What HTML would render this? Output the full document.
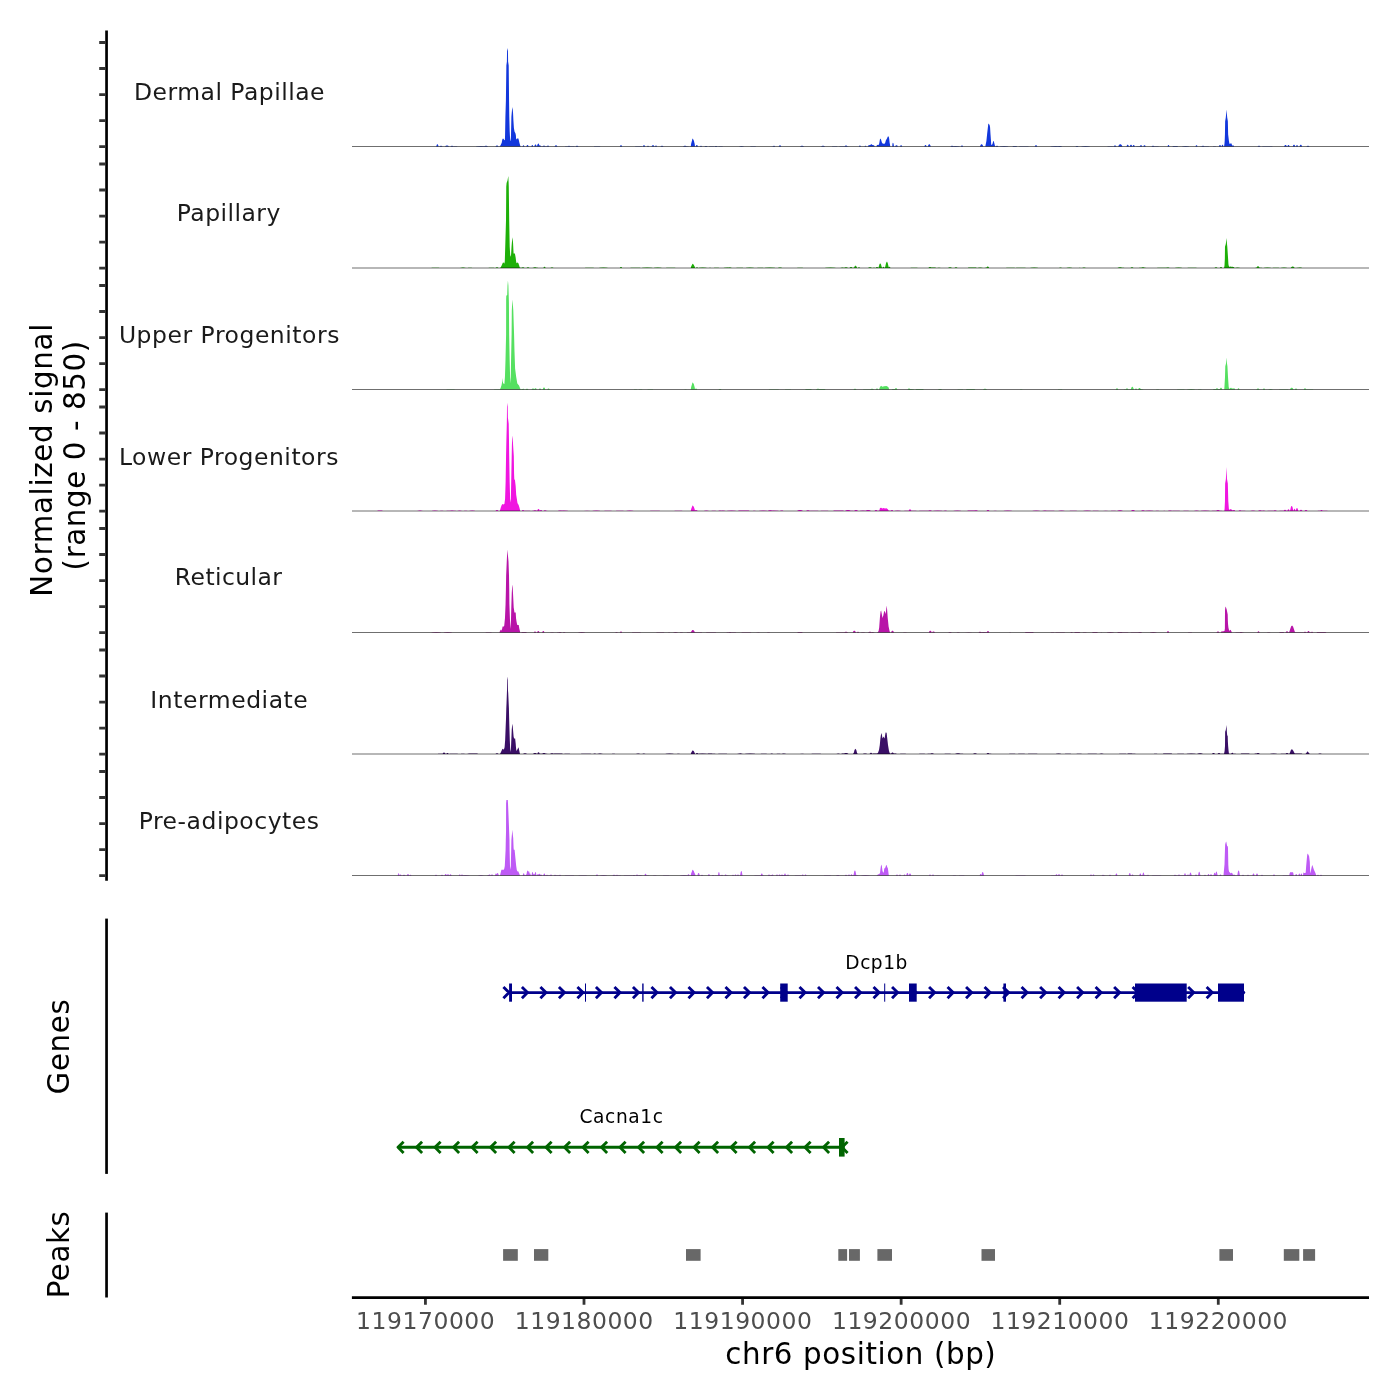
<!DOCTYPE html>
<html lang="en"><head><meta charset="utf-8"><title>Coverage plot chr6</title>
<style>html,body{margin:0;padding:0;background:#fff}body{width:1400px;height:1400px;overflow:hidden}svg{display:block}text{font-family:"DejaVu Sans","Liberation Sans",sans-serif}</style>
</head><body>
<svg width="1400" height="1400" viewBox="0 0 1400 1400">
<rect width="1400" height="1400" fill="#fff"/>
<path d="M499.50 146.50 L500.60 145.30 L501.70 142.80 L502.20 140.00 L502.60 138.70 L503.60 138.70 L504.10 140.00 L504.60 140.20 L504.90 139.50 L505.06 135.40 L505.40 116.80 L505.90 100.50 L506.36 65.50 L506.90 61.50 L507.05 51.00 L507.50 48.10 L507.95 51.00 L508.10 61.50 L508.70 65.50 L509.06 100.50 L509.30 116.80 L509.70 131.60 L510.10 139.10 L510.45 141.30 L510.70 140.50 L511.00 135.40 L511.40 116.80 L512.00 110.00 L512.50 106.90 L513.05 113.10 L513.40 120.50 L513.90 127.90 L514.50 131.60 L515.50 133.50 L515.90 135.40 L516.10 139.10 L516.40 139.50 L516.90 138.50 L518.40 138.50 L518.90 140.50 L519.40 142.80 L520.10 145.30 L520.70 146.50Z M436.20 146.50 L436.68 144.96 L437.16 144.30 L437.64 144.30 L438.12 144.96 L438.60 146.50Z M439.50 146.50 L440.10 145.94 L440.70 145.70 L441.30 145.70 L441.90 145.94 L442.50 146.50Z M445.00 146.50 L445.80 145.87 L446.60 145.60 L447.40 145.60 L448.20 145.87 L449.00 146.50Z M450.50 146.50 L451.10 145.94 L451.70 145.70 L452.30 145.70 L452.90 145.94 L453.50 146.50Z M484.00 146.50 L484.80 145.94 L485.60 145.70 L486.40 145.70 L487.20 145.94 L488.00 146.50Z M495.50 146.50 L496.10 145.80 L496.70 145.50 L497.30 145.50 L497.90 145.80 L498.50 146.50Z M522.50 146.50 L522.90 145.66 L523.30 145.30 L523.70 145.30 L524.10 145.66 L524.50 146.50Z M526.30 146.50 L526.78 145.45 L527.26 145.00 L527.74 145.00 L528.22 145.45 L528.70 146.50Z M531.30 146.50 L531.70 145.45 L532.10 145.00 L532.50 145.00 L532.90 145.45 L533.30 146.50Z M534.30 146.50 L534.78 145.10 L535.26 144.50 L535.74 144.50 L536.22 145.10 L536.70 146.50Z M536.80 146.50 L537.18 145.45 L537.63 144.16 L538.12 143.50 L538.48 143.50 L538.97 144.16 L539.42 145.45 L539.79 146.50Z M539.00 146.50 L539.40 145.66 L539.80 145.30 L540.20 145.30 L540.60 145.66 L541.00 146.50Z M543.00 146.50 L543.40 145.80 L543.80 145.50 L544.20 145.50 L544.60 145.80 L545.00 146.50Z M547.00 146.50 L547.40 145.80 L547.80 145.50 L548.20 145.50 L548.60 145.80 L549.00 146.50Z M554.50 146.50 L555.10 145.66 L555.70 145.30 L556.30 145.30 L556.90 145.66 L557.50 146.50Z M568.00 146.50 L568.40 146.01 L568.80 145.80 L569.20 145.80 L569.60 146.01 L570.00 146.50Z M575.50 146.50 L576.10 146.01 L576.70 145.80 L577.30 145.80 L577.90 146.01 L578.50 146.50Z M619.80 146.50 L620.28 145.59 L620.76 145.20 L621.24 145.20 L621.72 145.59 L622.20 146.50Z M642.80 146.50 L643.28 145.59 L643.76 145.20 L644.24 145.20 L644.72 145.59 L645.20 146.50Z M647.00 146.50 L647.40 145.94 L647.80 145.70 L648.20 145.70 L648.60 145.94 L649.00 146.50Z M651.50 146.50 L652.10 145.59 L652.70 145.20 L653.30 145.20 L653.90 145.59 L654.50 146.50Z M655.00 146.50 L655.40 145.87 L655.80 145.60 L656.20 145.60 L656.60 145.87 L657.00 146.50Z M660.50 146.50 L661.10 145.94 L661.70 145.70 L662.30 145.70 L662.90 145.94 L663.50 146.50Z M683.00 146.50 L683.80 145.94 L684.60 145.70 L685.40 145.70 L686.20 145.94 L687.00 146.50Z M695.60 146.50 L696.08 145.38 L696.56 144.90 L697.04 144.90 L697.52 145.38 L698.00 146.50Z M700.00 146.50 L700.40 146.01 L700.80 145.80 L701.20 145.80 L701.60 146.01 L702.00 146.50Z M704.50 146.50 L705.10 146.08 L705.70 145.90 L706.30 145.90 L706.90 146.08 L707.50 146.50Z M714.50 146.50 L715.10 146.08 L715.70 145.90 L716.30 145.90 L716.90 146.08 L717.50 146.50Z M772.80 146.50 L773.28 145.94 L773.76 145.70 L774.24 145.70 L774.72 145.94 L775.20 146.50Z M778.70 146.50 L779.22 145.66 L779.74 145.30 L780.26 145.30 L780.78 145.66 L781.30 146.50Z M800.00 146.50 L800.80 146.01 L801.60 145.80 L802.40 145.80 L803.20 146.01 L804.00 146.50Z M821.00 146.50 L821.80 145.94 L822.60 145.70 L823.40 145.70 L824.20 145.94 L825.00 146.50Z M844.50 146.50 L845.10 145.87 L845.70 145.60 L846.30 145.60 L846.90 145.87 L847.50 146.50Z M858.90 146.50 L859.30 145.80 L859.70 145.50 L860.10 145.50 L860.50 145.80 L860.90 146.50Z M864.50 146.50 L864.90 145.94 L865.30 145.70 L865.70 145.70 L866.10 145.94 L866.50 146.50Z M895.10 146.50 L895.66 145.59 L896.22 145.20 L896.78 145.20 L897.34 145.59 L897.90 146.50Z M900.00 146.50 L900.44 145.59 L900.88 145.20 L901.32 145.20 L901.76 145.59 L902.20 146.50Z M924.30 146.50 L924.78 145.45 L925.26 145.00 L925.74 145.00 L926.22 145.45 L926.70 146.50Z M927.80 146.50 L928.40 144.89 L929.00 144.20 L929.60 144.20 L930.20 144.89 L930.80 146.50Z M950.50 146.50 L951.10 145.94 L951.70 145.70 L952.30 145.70 L952.90 145.94 L953.50 146.50Z M960.80 146.50 L961.28 145.80 L961.76 145.50 L962.24 145.50 L962.72 145.80 L963.20 146.50Z M979.90 146.50 L980.58 144.89 L981.26 144.20 L981.94 144.20 L982.62 144.89 L983.30 146.50Z M995.50 146.50 L996.10 145.94 L996.70 145.70 L997.30 145.70 L997.90 145.94 L998.50 146.50Z M1034.70 146.50 L1035.22 145.59 L1035.74 145.20 L1036.26 145.20 L1036.78 145.59 L1037.30 146.50Z M1058.00 146.50 L1058.80 146.08 L1059.60 145.90 L1060.40 145.90 L1061.20 146.08 L1062.00 146.50Z M1075.50 146.50 L1076.10 146.08 L1076.70 145.90 L1077.30 145.90 L1077.90 146.08 L1078.50 146.50Z M1113.50 146.50 L1114.10 145.80 L1114.70 145.50 L1115.30 145.50 L1115.90 145.80 L1116.50 146.50Z M1118.10 146.50 L1118.98 144.89 L1119.86 144.20 L1120.74 144.20 L1121.62 144.89 L1122.50 146.50Z M1126.50 146.50 L1126.98 145.24 L1127.46 144.70 L1127.94 144.70 L1128.42 145.24 L1128.90 146.50Z M1129.70 146.50 L1130.22 145.24 L1130.74 144.70 L1131.26 144.70 L1131.78 145.24 L1132.30 146.50Z M1132.50 146.50 L1132.98 145.38 L1133.46 144.90 L1133.94 144.90 L1134.42 145.38 L1134.90 146.50Z M1139.70 146.50 L1140.22 145.59 L1140.74 145.20 L1141.26 145.20 L1141.78 145.59 L1142.30 146.50Z M1143.30 146.50 L1143.78 145.59 L1144.26 145.20 L1144.74 145.20 L1145.22 145.59 L1145.70 146.50Z M1151.50 146.50 L1152.10 146.01 L1152.70 145.80 L1153.30 145.80 L1153.90 146.01 L1154.50 146.50Z M1167.50 146.50 L1167.90 145.45 L1168.30 145.00 L1168.70 145.00 L1169.10 145.45 L1169.50 146.50Z M1195.50 146.50 L1195.90 145.59 L1196.30 145.20 L1196.70 145.20 L1197.10 145.59 L1197.50 146.50Z M1201.50 146.50 L1202.10 146.01 L1202.70 145.80 L1203.30 145.80 L1203.90 146.01 L1204.50 146.50Z M1218.80 146.50 L1219.28 145.45 L1219.76 145.00 L1220.24 145.00 L1220.72 145.45 L1221.20 146.50Z M1221.50 146.50 L1221.90 145.24 L1222.30 144.70 L1222.70 144.70 L1223.10 145.24 L1223.50 146.50Z M1229.51 146.50 L1229.88 145.38 L1230.33 144.00 L1230.82 143.30 L1231.18 143.30 L1231.67 144.00 L1232.12 145.38 L1232.49 146.50Z M1231.80 146.50 L1232.28 145.66 L1232.76 145.30 L1233.24 145.30 L1233.72 145.66 L1234.20 146.50Z M1257.50 146.50 L1258.10 145.94 L1258.70 145.70 L1259.30 145.70 L1259.90 145.94 L1260.50 146.50Z M1284.00 146.50 L1284.60 145.45 L1285.20 145.00 L1285.80 145.00 L1286.40 145.45 L1287.00 146.50Z M1287.30 146.50 L1287.78 145.45 L1288.26 145.00 L1288.74 145.00 L1289.22 145.45 L1289.70 146.50Z M1292.70 146.50 L1293.22 145.24 L1293.74 144.70 L1294.26 144.70 L1294.78 145.24 L1295.30 146.50Z M1296.00 146.50 L1296.40 145.45 L1296.80 145.00 L1297.20 145.00 L1297.60 145.45 L1298.00 146.50Z M1299.50 146.50 L1300.02 145.24 L1300.54 144.70 L1301.06 144.70 L1301.58 145.24 L1302.10 146.50Z M1306.50 146.50 L1307.10 146.01 L1307.70 145.80 L1308.30 145.80 L1308.90 146.01 L1309.50 146.50Z M1224.06 146.50 L1224.50 143.50 L1224.70 140.80 L1224.94 134.50 L1225.16 121.30 L1225.80 117.50 L1226.50 109.60 L1227.20 117.50 L1227.84 121.30 L1228.15 134.50 L1228.90 140.80 L1229.40 143.50 L1229.90 143.90 L1230.35 143.40 L1230.90 144.50 L1231.50 145.30 L1233.80 146.50Z M985.30 146.50 L986.40 141.00 L987.10 134.20 L987.90 127.30 L988.20 124.50 L988.46 123.50 L988.90 123.90 L989.60 125.00 L990.07 127.30 L990.50 134.20 L991.00 141.00 L991.20 144.50 L991.90 145.10 L992.60 143.50 L993.10 141.50 L993.50 140.80 L993.90 141.70 L994.30 143.30 L994.80 145.30 L995.30 146.50Z M876.50 146.50 L876.90 145.00 L878.90 144.80 L879.40 142.40 L879.90 139.50 L880.46 138.50 L881.00 139.50 L881.90 142.40 L882.60 143.50 L883.50 143.80 L884.60 143.80 L884.90 143.30 L885.30 142.40 L885.80 140.50 L886.36 139.50 L887.00 138.50 L887.70 136.70 L888.30 136.30 L888.80 136.90 L889.20 138.80 L889.60 142.50 L889.93 144.20 L890.30 146.50Z M892.20 146.50 L892.50 143.50 L892.90 142.75 L893.30 143.10 L893.70 144.50 L894.00 146.50Z M867.80 146.50 L868.50 145.30 L870.30 145.10 L871.00 144.30 L871.70 144.30 L872.40 145.10 L874.00 145.30 L874.80 146.50Z M690.80 146.50 L691.10 143.89 L691.60 142.00 L692.00 140.73 L692.40 138.60 L693.00 139.07 L693.90 140.73 L694.30 142.55 L694.70 143.89 L695.00 146.50Z M453.15 146.50 L453.95 146.35 L455.36 146.31 L456.78 146.35 L457.58 146.50Z M475.78 146.50 L476.58 146.16 L480.89 146.07 L485.19 146.16 L485.99 146.50Z M540.92 146.50 L541.72 146.24 L544.78 146.18 L547.84 146.24 L548.64 146.50Z M564.72 146.50 L565.52 146.21 L569.78 146.13 L574.04 146.21 L574.84 146.50Z M593.60 146.50 L594.40 146.23 L597.07 146.16 L599.75 146.23 L600.55 146.50Z M634.81 146.50 L635.61 146.30 L638.58 146.25 L641.56 146.30 L642.36 146.50Z M685.57 146.50 L686.37 146.34 L687.26 146.30 L688.15 146.34 L688.95 146.50Z M689.97 146.50 L690.77 146.21 L692.03 146.14 L693.29 146.21 L694.09 146.50Z M708.63 146.50 L709.43 146.27 L711.50 146.21 L713.58 146.27 L714.38 146.50Z M718.07 146.50 L718.87 146.36 L720.57 146.32 L722.28 146.36 L723.08 146.50Z M738.99 146.50 L739.79 146.19 L741.54 146.11 L743.28 146.19 L744.08 146.50Z M750.07 146.50 L750.87 146.32 L753.13 146.28 L755.39 146.32 L756.19 146.50Z M770.64 146.50 L771.44 146.38 L772.17 146.35 L772.91 146.38 L773.71 146.50Z M831.62 146.50 L832.42 146.27 L834.65 146.21 L836.88 146.27 L837.68 146.50Z M839.06 146.50 L839.86 146.24 L843.93 146.17 L848.00 146.24 L848.80 146.50Z M881.27 146.50 L882.07 146.38 L886.21 146.35 L890.36 146.38 L891.16 146.50Z M894.09 146.50 L894.89 146.36 L895.67 146.32 L896.45 146.36 L897.25 146.50Z M950.94 146.50 L951.74 146.17 L955.39 146.08 L959.04 146.17 L959.84 146.50Z M999.51 146.50 L1000.31 146.19 L1004.08 146.12 L1007.85 146.19 L1008.65 146.50Z M1012.33 146.50 L1013.13 146.10 L1014.76 146.01 L1016.39 146.10 L1017.19 146.50Z M1018.92 146.50 L1019.72 146.37 L1023.94 146.33 L1028.15 146.37 L1028.95 146.50Z M1050.36 146.50 L1051.16 146.19 L1055.60 146.11 L1060.04 146.19 L1060.84 146.50Z M1081.09 146.50 L1081.89 146.15 L1085.56 146.06 L1089.23 146.15 L1090.03 146.50Z M1107.15 146.50 L1107.95 146.34 L1110.18 146.31 L1112.41 146.34 L1113.21 146.50Z M1125.63 146.50 L1126.43 146.40 L1128.17 146.37 L1129.91 146.40 L1130.71 146.50Z M1135.92 146.50 L1136.72 146.20 L1138.12 146.13 L1139.53 146.20 L1140.33 146.50Z M1151.88 146.50 L1152.68 146.28 L1155.45 146.23 L1158.22 146.28 L1159.02 146.50Z M1172.29 146.50 L1173.09 146.12 L1175.22 146.03 L1177.34 146.12 L1178.14 146.50Z M1181.84 146.50 L1182.64 146.18 L1185.64 146.11 L1188.64 146.18 L1189.44 146.50Z M1200.09 146.50 L1200.89 146.22 L1204.69 146.15 L1208.48 146.22 L1209.28 146.50Z M1212.53 146.50 L1213.33 146.34 L1214.42 146.30 L1215.51 146.34 L1216.31 146.50Z M1262.01 146.50 L1262.81 146.28 L1267.43 146.23 L1272.04 146.28 L1272.84 146.50Z" fill="#1237DC"/>
<line x1="352.0" y1="146.50" x2="1369.0" y2="146.50" stroke="#000" stroke-width="0.57"/>
<text x="133.97" y="99.50" font-size="23.47" fill="#1a1a1a" letter-spacing="0.486">Dermal Papillae</text>
<path d="M499.90 268.00 L500.80 267.20 L501.90 265.00 L502.70 263.00 L503.20 262.20 L503.80 263.00 L504.40 263.40 L504.80 261.30 L505.24 246.40 L506.00 220.40 L506.25 186.70 L506.60 183.00 L507.50 180.50 L508.30 176.10 L508.60 182.00 L508.77 186.70 L509.20 220.40 L509.70 246.40 L510.26 255.70 L510.60 256.80 L511.10 254.30 L511.56 246.40 L512.10 240.00 L512.50 237.30 L513.04 242.70 L513.40 250.10 L513.60 253.50 L514.90 253.50 L515.64 257.60 L516.10 261.30 L516.50 263.20 L517.20 262.80 L517.90 262.40 L518.50 263.40 L519.00 265.00 L519.70 267.20 L520.30 268.00Z M460.00 268.00 L461.20 267.65 L462.40 267.50 L463.60 267.50 L464.80 267.65 L466.00 268.00Z M495.50 268.00 L496.10 267.51 L496.70 267.30 L497.30 267.30 L497.90 267.51 L498.50 268.00Z M521.50 268.00 L522.10 267.51 L522.70 267.30 L523.30 267.30 L523.90 267.51 L524.50 268.00Z M526.50 268.00 L527.10 267.44 L527.70 267.20 L528.30 267.20 L528.90 267.44 L529.50 268.00Z M533.00 268.00 L533.80 267.51 L534.60 267.30 L535.40 267.30 L536.20 267.51 L537.00 268.00Z M543.30 268.00 L543.78 267.16 L544.26 266.80 L544.74 266.80 L545.22 267.16 L545.70 268.00Z M550.50 268.00 L551.10 267.58 L551.70 267.40 L552.30 267.40 L552.90 267.58 L553.50 268.00Z M619.80 268.00 L620.28 267.37 L620.76 267.10 L621.24 267.10 L621.72 267.37 L622.20 268.00Z M696.00 268.00 L696.40 267.44 L696.80 267.20 L697.20 267.20 L697.60 267.44 L698.00 268.00Z M728.00 268.00 L728.80 267.65 L729.60 267.50 L730.40 267.50 L731.20 267.65 L732.00 268.00Z M778.00 268.00 L778.80 267.58 L779.60 267.40 L780.40 267.40 L781.20 267.58 L782.00 268.00Z M844.00 268.00 L844.80 267.44 L845.60 267.20 L846.40 267.20 L847.20 267.44 L848.00 268.00Z M849.50 268.00 L850.10 267.37 L850.70 267.10 L851.30 267.10 L851.90 267.37 L852.50 268.00Z M853.90 268.00 L854.54 266.39 L855.18 265.70 L855.82 265.70 L856.46 266.39 L857.10 268.00Z M858.00 268.00 L858.40 267.44 L858.80 267.20 L859.20 267.20 L859.60 267.44 L860.00 268.00Z M868.00 268.00 L868.80 267.44 L869.60 267.20 L870.40 267.20 L871.20 267.44 L872.00 268.00Z M875.80 268.00 L876.28 267.37 L876.76 267.10 L877.24 267.10 L877.72 267.37 L878.20 268.00Z M878.36 268.00 L878.82 266.39 L879.37 264.41 L879.98 263.40 L880.42 263.40 L881.03 264.41 L881.58 266.39 L882.04 268.00Z M882.50 268.00 L882.90 267.16 L883.30 266.80 L883.70 266.80 L884.10 267.16 L884.50 268.00Z M884.94 268.00 L885.43 265.83 L886.02 263.16 L886.67 261.80 L887.13 261.80 L887.78 263.16 L888.37 265.83 L888.86 268.00Z M888.50 268.00 L888.90 267.16 L889.30 266.80 L889.70 266.80 L890.10 267.16 L890.50 268.00Z M928.50 268.00 L929.10 267.37 L929.70 267.10 L930.30 267.10 L930.90 267.37 L931.50 268.00Z M948.00 268.00 L948.80 267.51 L949.60 267.30 L950.40 267.30 L951.20 267.51 L952.00 268.00Z M954.50 268.00 L955.10 267.44 L955.70 267.20 L956.30 267.20 L956.90 267.44 L957.50 268.00Z M986.20 268.00 L986.80 266.88 L987.40 266.40 L988.00 266.40 L988.60 266.88 L989.20 268.00Z M1082.00 268.00 L1082.80 267.65 L1083.60 267.50 L1084.40 267.50 L1085.20 267.65 L1086.00 268.00Z M1117.50 268.00 L1118.50 267.44 L1119.50 267.20 L1120.50 267.20 L1121.50 267.44 L1122.50 268.00Z M1130.50 268.00 L1131.10 267.51 L1131.70 267.30 L1132.30 267.30 L1132.90 267.51 L1133.50 268.00Z M1141.00 268.00 L1141.80 267.44 L1142.60 267.20 L1143.40 267.20 L1144.20 267.44 L1145.00 268.00Z M1166.50 268.00 L1167.10 267.58 L1167.70 267.40 L1168.30 267.40 L1168.90 267.58 L1169.50 268.00Z M1214.50 268.00 L1215.10 267.44 L1215.70 267.20 L1216.30 267.20 L1216.90 267.44 L1217.50 268.00Z M1219.80 268.00 L1220.28 267.30 L1220.76 267.00 L1221.24 267.00 L1221.72 267.30 L1222.20 268.00Z M1229.80 268.00 L1230.28 266.88 L1230.76 266.40 L1231.24 266.40 L1231.72 266.88 L1232.20 268.00Z M1232.50 268.00 L1232.90 267.37 L1233.30 267.10 L1233.70 267.10 L1234.10 267.37 L1234.50 268.00Z M1256.30 268.00 L1256.98 266.81 L1257.66 266.30 L1258.34 266.30 L1259.02 266.81 L1259.70 268.00Z M1290.70 268.00 L1291.50 267.02 L1292.30 266.60 L1293.10 266.60 L1293.90 267.02 L1294.70 268.00Z M1298.00 268.00 L1298.80 267.58 L1299.60 267.40 L1300.40 267.40 L1301.20 267.58 L1302.00 268.00Z M1224.04 268.00 L1224.50 265.60 L1224.85 258.80 L1224.99 246.80 L1225.80 244.00 L1226.54 238.10 L1227.00 244.00 L1227.30 246.80 L1228.10 258.80 L1228.40 264.00 L1228.65 265.60 L1229.50 267.00 L1230.30 266.40 L1231.00 267.20 L1231.80 267.30 L1232.70 266.40 L1233.60 268.00Z M690.80 268.00 L691.10 266.61 L691.60 265.61 L692.00 264.93 L692.40 263.80 L693.00 264.05 L693.90 264.93 L694.30 265.90 L694.70 266.61 L695.00 268.00Z M431.25 268.00 L432.05 267.84 L435.40 267.80 L438.76 267.84 L439.56 268.00Z M467.63 268.00 L468.43 267.77 L469.96 267.72 L471.49 267.77 L472.29 268.00Z M488.34 268.00 L489.14 267.79 L491.42 267.74 L493.70 267.79 L494.50 268.00Z M497.23 268.00 L498.03 267.90 L501.40 267.88 L504.78 267.90 L505.58 268.00Z M515.34 268.00 L516.14 267.86 L519.09 267.82 L522.05 267.86 L522.85 268.00Z M532.38 268.00 L533.18 267.71 L535.33 267.63 L537.48 267.71 L538.28 268.00Z M555.83 268.00 L556.63 267.90 L560.06 267.88 L563.50 267.90 L564.30 268.00Z M584.75 268.00 L585.55 267.86 L589.42 267.83 L593.29 267.86 L594.09 268.00Z M598.95 268.00 L599.75 267.63 L603.40 267.54 L607.06 267.63 L607.86 268.00Z M630.15 268.00 L630.95 267.83 L635.40 267.78 L639.85 267.83 L640.65 268.00Z M641.76 268.00 L642.56 267.63 L647.19 267.54 L651.81 267.63 L652.61 268.00Z M653.64 268.00 L654.44 267.63 L657.75 267.54 L661.06 267.63 L661.86 268.00Z M665.84 268.00 L666.64 267.76 L670.77 267.71 L674.90 267.76 L675.70 268.00Z M698.44 268.00 L699.24 267.63 L702.65 267.54 L706.07 267.63 L706.87 268.00Z M707.67 268.00 L708.47 267.88 L710.05 267.85 L711.63 267.88 L712.43 268.00Z M713.59 268.00 L714.39 267.79 L716.46 267.74 L718.53 267.79 L719.33 268.00Z M723.49 268.00 L724.29 267.70 L727.70 267.62 L731.10 267.70 L731.90 268.00Z M736.05 268.00 L736.85 267.87 L739.75 267.83 L742.65 267.87 L743.45 268.00Z M745.70 268.00 L746.50 267.68 L749.90 267.60 L753.31 267.68 L754.11 268.00Z M757.00 268.00 L757.80 267.81 L760.32 267.77 L762.84 267.81 L763.64 268.00Z M764.41 268.00 L765.21 267.68 L769.88 267.60 L774.55 267.68 L775.35 268.00Z M796.97 268.00 L797.77 267.77 L800.11 267.71 L802.46 267.77 L803.26 268.00Z M824.98 268.00 L825.78 267.66 L830.38 267.58 L834.99 267.66 L835.79 268.00Z M840.30 268.00 L841.10 267.69 L842.39 267.61 L843.68 267.69 L844.48 268.00Z M852.37 268.00 L853.17 267.85 L854.80 267.81 L856.43 267.85 L857.23 268.00Z M872.41 268.00 L873.21 267.85 L874.07 267.81 L874.92 267.85 L875.72 268.00Z M880.15 268.00 L880.95 267.75 L885.33 267.69 L889.70 267.75 L890.50 268.00Z M910.21 268.00 L911.01 267.76 L914.02 267.70 L917.02 267.76 L917.82 268.00Z M928.22 268.00 L929.02 267.60 L932.13 267.50 L935.24 267.60 L936.04 268.00Z M937.28 268.00 L938.08 267.82 L939.02 267.77 L939.95 267.82 L940.75 268.00Z M967.72 268.00 L968.52 267.62 L972.24 267.52 L975.96 267.62 L976.76 268.00Z M977.44 268.00 L978.24 267.63 L980.16 267.54 L982.07 267.63 L982.87 268.00Z M984.48 268.00 L985.28 267.85 L986.58 267.82 L987.89 267.85 L988.69 268.00Z M1005.90 268.00 L1006.70 267.84 L1010.51 267.79 L1014.32 267.84 L1015.12 268.00Z M1015.80 268.00 L1016.60 267.86 L1020.87 267.83 L1025.14 267.86 L1025.94 268.00Z M1030.08 268.00 L1030.88 267.70 L1034.16 267.62 L1037.44 267.70 L1038.24 268.00Z M1058.78 268.00 L1059.58 267.70 L1060.50 267.62 L1061.42 267.70 L1062.22 268.00Z M1066.36 268.00 L1067.16 267.64 L1069.34 267.56 L1071.53 267.64 L1072.33 268.00Z M1078.03 268.00 L1078.83 267.89 L1079.71 267.86 L1080.58 267.89 L1081.38 268.00Z M1118.30 268.00 L1119.10 267.67 L1121.39 267.59 L1123.68 267.67 L1124.48 268.00Z M1138.78 268.00 L1139.58 267.69 L1142.40 267.61 L1145.22 267.69 L1146.02 268.00Z M1156.89 268.00 L1157.69 267.83 L1162.17 267.79 L1166.64 267.83 L1167.44 268.00Z M1174.92 268.00 L1175.72 267.63 L1178.59 267.54 L1181.45 267.63 L1182.25 268.00Z M1187.23 268.00 L1188.03 267.85 L1192.05 267.82 L1196.08 267.85 L1196.88 268.00Z M1231.10 268.00 L1231.90 267.68 L1232.82 267.60 L1233.74 267.68 L1234.54 268.00Z M1235.11 268.00 L1235.91 267.69 L1237.63 267.61 L1239.35 267.69 L1240.15 268.00Z M1254.93 268.00 L1255.73 267.68 L1258.64 267.60 L1261.55 267.68 L1262.35 268.00Z M1263.62 268.00 L1264.42 267.65 L1267.36 267.57 L1270.30 267.65 L1271.10 268.00Z M1272.41 268.00 L1273.21 267.81 L1275.91 267.76 L1278.61 267.81 L1279.41 268.00Z M1280.78 268.00 L1281.58 267.66 L1283.98 267.58 L1286.38 267.66 L1287.18 268.00Z M1296.24 268.00 L1297.04 267.86 L1299.03 267.82 L1301.02 267.86 L1301.82 268.00Z" fill="#1DB008"/>
<line x1="352.0" y1="268.00" x2="1369.0" y2="268.00" stroke="#000" stroke-width="0.57"/>
<text x="176.82" y="221.40" font-size="23.47" fill="#1a1a1a" letter-spacing="0.450">Papillary</text>
<path d="M499.90 389.50 L500.80 387.50 L501.60 385.00 L502.00 382.50 L502.30 377.90 L502.70 381.50 L503.30 383.50 L504.40 384.00 L504.94 377.10 L505.50 359.90 L506.10 334.20 L506.15 299.50 L506.30 295.80 L507.20 295.00 L507.50 285.50 L507.95 280.40 L508.40 285.50 L508.70 295.00 L508.90 301.80 L509.15 334.20 L509.66 359.90 L510.10 377.10 L510.40 383.50 L510.80 377.10 L511.07 359.90 L511.60 334.20 L511.80 310.40 L512.20 303.50 L512.50 299.50 L512.80 303.50 L513.30 310.40 L514.07 334.20 L514.50 351.40 L515.10 368.50 L516.20 377.10 L517.30 383.50 L519.00 385.60 L520.10 388.20 L520.60 389.50Z M522.10 389.50 L522.58 388.94 L523.06 388.70 L523.54 388.70 L524.02 388.94 L524.50 389.50Z M525.50 389.50 L526.10 388.94 L526.70 388.70 L527.30 388.70 L527.90 388.94 L528.50 389.50Z M531.50 389.50 L532.10 388.80 L532.70 388.50 L533.30 388.50 L533.90 388.80 L534.50 389.50Z M534.30 389.50 L534.78 388.59 L535.26 388.20 L535.74 388.20 L536.22 388.59 L536.70 389.50Z M538.80 389.50 L539.28 388.80 L539.76 388.50 L540.24 388.50 L540.72 388.80 L541.20 389.50Z M542.70 389.50 L543.22 388.10 L543.74 387.50 L544.26 387.50 L544.78 388.10 L545.30 389.50Z M547.30 389.50 L547.78 388.80 L548.26 388.50 L548.74 388.50 L549.22 388.80 L549.70 389.50Z M695.00 389.50 L695.40 388.80 L695.80 388.50 L696.20 388.50 L696.60 388.80 L697.00 389.50Z M718.50 389.50 L719.10 389.08 L719.70 388.90 L720.30 388.90 L720.90 389.08 L721.50 389.50Z M816.00 389.50 L816.80 389.01 L817.60 388.80 L818.40 388.80 L819.20 389.01 L820.00 389.50Z M853.50 389.50 L854.10 388.94 L854.70 388.70 L855.30 388.70 L855.90 388.94 L856.50 389.50Z M870.00 389.50 L870.80 388.94 L871.60 388.70 L872.40 388.70 L873.20 388.94 L874.00 389.50Z M875.80 389.50 L876.28 388.80 L876.76 388.50 L877.24 388.50 L877.72 388.80 L878.20 389.50Z M894.80 389.50 L895.28 388.45 L895.76 388.00 L896.24 388.00 L896.72 388.45 L897.20 389.50Z M907.50 389.50 L908.10 388.80 L908.70 388.50 L909.30 388.50 L909.90 388.80 L910.50 389.50Z M938.00 389.50 L938.80 389.08 L939.60 388.90 L940.40 388.90 L941.20 389.08 L942.00 389.50Z M983.00 389.50 L983.80 389.01 L984.60 388.80 L985.40 388.80 L986.20 389.01 L987.00 389.50Z M1115.70 389.50 L1116.22 388.66 L1116.74 388.30 L1117.26 388.30 L1117.78 388.66 L1118.30 389.50Z M1125.80 389.50 L1126.28 388.66 L1126.76 388.30 L1127.24 388.30 L1127.72 388.66 L1128.20 389.50Z M1130.69 389.50 L1131.09 388.52 L1131.58 387.32 L1132.11 386.70 L1132.49 386.70 L1133.02 387.32 L1133.51 388.52 L1133.91 389.50Z M1135.00 389.50 L1135.40 388.80 L1135.80 388.50 L1136.20 388.50 L1136.60 388.80 L1137.00 389.50Z M1138.00 389.50 L1138.60 388.38 L1139.20 387.90 L1139.80 387.90 L1140.40 388.38 L1141.00 389.50Z M1215.50 389.50 L1216.10 388.66 L1216.70 388.30 L1217.30 388.30 L1217.90 388.66 L1218.50 389.50Z M1219.70 389.50 L1220.22 388.24 L1220.74 387.70 L1221.26 387.70 L1221.78 388.24 L1222.30 389.50Z M1229.80 389.50 L1230.28 388.24 L1230.76 387.70 L1231.24 387.70 L1231.72 388.24 L1232.20 389.50Z M1232.80 389.50 L1233.28 388.66 L1233.76 388.30 L1234.24 388.30 L1234.72 388.66 L1235.20 389.50Z M1237.50 389.50 L1237.90 388.59 L1238.30 388.20 L1238.70 388.20 L1239.10 388.59 L1239.50 389.50Z M1256.50 389.50 L1257.10 388.87 L1257.70 388.60 L1258.30 388.60 L1258.90 388.87 L1259.50 389.50Z M1262.80 389.50 L1263.28 388.80 L1263.76 388.50 L1264.24 388.50 L1264.72 388.80 L1265.20 389.50Z M1289.90 389.50 L1290.62 388.24 L1291.34 387.70 L1292.06 387.70 L1292.78 388.24 L1293.50 389.50Z M1294.80 389.50 L1295.28 388.87 L1295.76 388.60 L1296.24 388.60 L1296.72 388.87 L1297.20 389.50Z M1303.70 389.50 L1304.22 388.66 L1304.74 388.30 L1305.26 388.30 L1305.78 388.66 L1306.30 389.50Z M879.00 389.50 L880.00 387.10 L881.00 385.70 L882.50 386.70 L884.00 386.30 L886.50 386.10 L888.30 386.90 L889.30 389.50Z M1224.20 389.50 L1224.43 387.10 L1225.00 377.10 L1225.29 366.20 L1226.00 363.50 L1226.57 357.60 L1227.00 363.50 L1227.43 366.20 L1228.00 377.10 L1228.70 387.10 L1229.20 388.70 L1229.80 388.70 L1230.40 387.90 L1231.20 388.70 L1232.00 388.70 L1232.90 388.30 L1233.80 389.50Z M690.80 389.50 L691.10 387.16 L691.60 385.45 L692.00 384.32 L692.40 382.40 L693.00 382.83 L693.90 384.32 L694.30 385.95 L694.70 387.16 L695.00 389.50Z M446.12 389.50 L446.92 389.29 L450.57 389.24 L454.21 389.29 L455.01 389.50Z M493.80 389.50 L494.60 389.27 L498.29 389.22 L501.98 389.27 L502.78 389.50Z M516.58 389.50 L517.38 389.23 L519.81 389.17 L522.24 389.23 L523.04 389.50Z M633.61 389.50 L634.41 389.29 L635.43 389.23 L636.45 389.29 L637.25 389.50Z M638.41 389.50 L639.21 389.28 L640.51 389.22 L641.81 389.28 L642.61 389.50Z M647.12 389.50 L647.92 389.33 L650.28 389.29 L652.63 389.33 L653.43 389.50Z M683.12 389.50 L683.92 389.38 L685.53 389.34 L687.14 389.38 L687.94 389.50Z M704.46 389.50 L705.26 389.40 L707.83 389.38 L710.41 389.40 L711.21 389.50Z M768.44 389.50 L769.24 389.30 L773.76 389.25 L778.28 389.30 L779.08 389.50Z M784.61 389.50 L785.41 389.33 L787.92 389.29 L790.44 389.33 L791.24 389.50Z M805.03 389.50 L805.83 389.11 L808.47 389.02 L811.11 389.11 L811.91 389.50Z M816.58 389.50 L817.38 389.11 L821.09 389.02 L824.81 389.11 L825.61 389.50Z M862.85 389.50 L863.65 389.21 L867.36 389.13 L871.06 389.21 L871.86 389.50Z M878.49 389.50 L879.29 389.36 L883.53 389.33 L887.77 389.36 L888.57 389.50Z M891.66 389.50 L892.46 389.11 L894.60 389.01 L896.73 389.11 L897.53 389.50Z M907.70 389.50 L908.50 389.19 L911.14 389.12 L913.79 389.19 L914.59 389.50Z M915.39 389.50 L916.19 389.10 L919.64 389.00 L923.09 389.10 L923.89 389.50Z M957.18 389.50 L957.98 389.27 L960.25 389.21 L962.51 389.27 L963.31 389.50Z M965.90 389.50 L966.70 389.11 L970.65 389.01 L974.60 389.11 L975.40 389.50Z M1019.58 389.50 L1020.38 389.35 L1021.17 389.31 L1021.97 389.35 L1022.77 389.50Z M1057.69 389.50 L1058.49 389.23 L1060.17 389.16 L1061.85 389.23 L1062.65 389.50Z M1123.43 389.50 L1124.23 389.35 L1127.83 389.31 L1131.42 389.35 L1132.22 389.50Z M1137.97 389.50 L1138.77 389.15 L1140.80 389.06 L1142.83 389.15 L1143.63 389.50Z M1155.96 389.50 L1156.76 389.25 L1157.61 389.19 L1158.47 389.25 L1159.27 389.50Z M1176.91 389.50 L1177.71 389.24 L1180.89 389.17 L1184.07 389.24 L1184.87 389.50Z M1186.96 389.50 L1187.76 389.13 L1191.06 389.04 L1194.35 389.13 L1195.15 389.50Z M1197.61 389.50 L1198.41 389.29 L1199.74 389.24 L1201.08 389.29 L1201.88 389.50Z M1212.89 389.50 L1213.69 389.11 L1217.32 389.01 L1220.96 389.11 L1221.76 389.50Z M1224.30 389.50 L1225.10 389.28 L1229.68 389.23 L1234.27 389.28 L1235.07 389.50Z M1268.07 389.50 L1268.87 389.17 L1270.53 389.09 L1272.20 389.17 L1273.00 389.50Z M1278.92 389.50 L1279.72 389.25 L1283.75 389.18 L1287.79 389.25 L1288.59 389.50Z M1303.39 389.50 L1304.19 389.22 L1308.46 389.15 L1312.73 389.22 L1313.53 389.50Z" fill="#55E060"/>
<line x1="352.0" y1="389.50" x2="1369.0" y2="389.50" stroke="#000" stroke-width="0.57"/>
<text x="118.90" y="342.50" font-size="23.47" fill="#1a1a1a" letter-spacing="0.534">Upper Progenitors</text>
<path d="M499.80 511.00 L500.80 507.60 L501.50 505.50 L502.30 504.10 L503.20 504.50 L504.40 504.10 L505.07 499.00 L505.63 481.80 L506.06 456.10 L506.36 441.00 L506.80 423.80 L506.90 417.40 L507.00 407.00 L507.34 402.80 L507.70 407.00 L507.90 417.40 L508.70 423.80 L509.00 441.00 L509.20 456.10 L509.66 481.80 L510.13 499.00 L510.50 502.40 L510.86 499.00 L511.20 481.80 L511.70 456.10 L511.90 445.20 L512.20 439.00 L512.50 435.40 L512.80 439.00 L513.10 445.20 L513.80 456.10 L514.07 473.30 L514.30 479.30 L514.95 480.00 L515.66 486.10 L516.20 494.70 L516.86 499.00 L517.50 503.30 L518.10 504.10 L518.80 505.50 L519.40 507.60 L520.30 511.00Z M377.00 511.00 L378.20 510.58 L379.40 510.40 L380.60 510.40 L381.80 510.58 L383.00 511.00Z M417.00 511.00 L418.20 510.65 L419.40 510.50 L420.60 510.50 L421.80 510.65 L423.00 511.00Z M450.00 511.00 L450.80 510.58 L451.60 510.40 L452.40 510.40 L453.20 510.58 L454.00 511.00Z M495.50 511.00 L496.10 510.37 L496.70 510.10 L497.30 510.10 L497.90 510.37 L498.50 511.00Z M521.80 511.00 L522.28 510.37 L522.76 510.10 L523.24 510.10 L523.72 510.37 L524.20 511.00Z M533.00 511.00 L533.80 510.44 L534.60 510.20 L535.40 510.20 L536.20 510.44 L537.00 511.00Z M537.20 511.00 L537.72 509.60 L538.24 509.00 L538.76 509.00 L539.28 509.60 L539.80 511.00Z M539.80 511.00 L540.28 510.30 L540.76 510.00 L541.24 510.00 L541.72 510.30 L542.20 511.00Z M543.50 511.00 L544.10 510.44 L544.70 510.20 L545.30 510.20 L545.90 510.44 L546.50 511.00Z M558.00 511.00 L558.80 510.58 L559.60 510.40 L560.40 510.40 L561.20 510.58 L562.00 511.00Z M694.80 511.00 L695.28 510.30 L695.76 510.00 L696.24 510.00 L696.72 510.30 L697.20 511.00Z M718.00 511.00 L718.80 510.65 L719.60 510.50 L720.40 510.50 L721.20 510.65 L722.00 511.00Z M738.00 511.00 L738.80 510.58 L739.60 510.40 L740.40 510.40 L741.20 510.58 L742.00 511.00Z M767.50 511.00 L768.50 510.51 L769.50 510.30 L770.50 510.30 L771.50 510.51 L772.50 511.00Z M797.00 511.00 L798.20 510.37 L799.40 510.10 L800.60 510.10 L801.80 510.37 L803.00 511.00Z M806.00 511.00 L806.80 510.44 L807.60 510.20 L808.40 510.20 L809.20 510.44 L810.00 511.00Z M845.00 511.00 L846.20 510.37 L847.40 510.10 L848.60 510.10 L849.80 510.37 L851.00 511.00Z M854.00 511.00 L854.80 510.37 L855.60 510.10 L856.40 510.10 L857.20 510.37 L858.00 511.00Z M865.50 511.00 L866.50 510.37 L867.50 510.10 L868.50 510.10 L869.50 510.37 L870.50 511.00Z M874.50 511.00 L875.10 510.30 L875.70 510.00 L876.30 510.00 L876.90 510.30 L877.50 511.00Z M890.80 511.00 L891.28 510.30 L891.76 510.00 L892.24 510.00 L892.72 510.30 L893.20 511.00Z M908.70 511.00 L909.22 509.81 L909.74 509.30 L910.26 509.30 L910.78 509.81 L911.30 511.00Z M928.00 511.00 L928.80 510.51 L929.60 510.30 L930.40 510.30 L931.20 510.51 L932.00 511.00Z M974.00 511.00 L974.80 510.51 L975.60 510.30 L976.40 510.30 L977.20 510.51 L978.00 511.00Z M986.50 511.00 L987.10 510.23 L987.70 509.90 L988.30 509.90 L988.90 510.23 L989.50 511.00Z M1042.00 511.00 L1043.20 510.65 L1044.40 510.50 L1045.60 510.50 L1046.80 510.65 L1048.00 511.00Z M1117.00 511.00 L1118.20 510.44 L1119.40 510.20 L1120.60 510.20 L1121.80 510.44 L1123.00 511.00Z M1131.00 511.00 L1131.80 510.37 L1132.60 510.10 L1133.40 510.10 L1134.20 510.37 L1135.00 511.00Z M1141.00 511.00 L1141.80 510.44 L1142.60 510.20 L1143.40 510.20 L1144.20 510.44 L1145.00 511.00Z M1168.00 511.00 L1168.80 510.58 L1169.60 510.40 L1170.40 510.40 L1171.20 510.58 L1172.00 511.00Z M1216.00 511.00 L1216.80 510.30 L1217.60 510.00 L1218.40 510.00 L1219.20 510.30 L1220.00 511.00Z M1229.70 511.00 L1230.22 509.74 L1230.74 509.20 L1231.26 509.20 L1231.78 509.74 L1232.30 511.00Z M1232.80 511.00 L1233.28 510.30 L1233.76 510.00 L1234.24 510.00 L1234.72 510.30 L1235.20 511.00Z M1238.50 511.00 L1239.10 510.44 L1239.70 510.20 L1240.30 510.20 L1240.90 510.44 L1241.50 511.00Z M1258.00 511.00 L1258.80 510.44 L1259.60 510.20 L1260.40 510.20 L1261.20 510.44 L1262.00 511.00Z M1273.50 511.00 L1274.10 510.51 L1274.70 510.30 L1275.30 510.30 L1275.90 510.51 L1276.50 511.00Z M1283.50 511.00 L1284.10 510.16 L1284.70 509.80 L1285.30 509.80 L1285.90 510.16 L1286.50 511.00Z M1287.30 511.00 L1287.78 509.74 L1288.26 509.20 L1288.74 509.20 L1289.22 509.74 L1289.70 511.00Z M1289.98 511.00 L1290.41 509.25 L1290.92 507.10 L1291.49 506.00 L1291.91 506.00 L1292.48 507.10 L1292.99 509.25 L1293.42 511.00Z M1293.50 511.00 L1293.90 509.46 L1294.30 508.80 L1294.70 508.80 L1295.10 509.46 L1295.50 511.00Z M1295.51 511.00 L1295.88 509.95 L1296.33 508.66 L1296.82 508.00 L1297.18 508.00 L1297.67 508.66 L1298.12 509.95 L1298.49 511.00Z M1299.50 511.00 L1300.10 510.16 L1300.70 509.80 L1301.30 509.80 L1301.90 510.16 L1302.50 511.00Z M1304.50 511.00 L1305.10 510.30 L1305.70 510.00 L1306.30 510.00 L1306.90 510.30 L1307.50 511.00Z M1320.30 511.00 L1320.78 510.30 L1321.26 510.00 L1321.74 510.00 L1322.22 510.30 L1322.70 511.00Z M879.20 511.00 L880.00 508.00 L881.20 507.80 L882.30 508.60 L883.50 507.90 L885.00 508.50 L886.50 508.30 L887.80 509.20 L889.00 511.00Z M1224.30 511.00 L1224.60 508.80 L1224.96 501.30 L1225.14 483.50 L1225.90 479.00 L1226.44 467.00 L1227.00 479.00 L1227.82 483.50 L1228.30 501.30 L1228.86 508.80 L1229.60 510.10 L1230.34 509.10 L1231.20 510.00 L1232.50 510.20 L1234.00 511.00Z M690.80 511.00 L691.10 509.15 L691.60 507.81 L692.00 506.91 L692.40 505.40 L693.00 505.74 L693.90 506.91 L694.30 508.20 L694.70 509.15 L695.00 511.00Z M431.58 511.00 L432.38 510.69 L434.91 510.61 L437.43 510.69 L438.23 511.00Z M439.91 511.00 L440.71 510.72 L441.73 510.65 L442.74 510.72 L443.54 511.00Z M446.14 511.00 L446.94 510.64 L451.20 510.55 L455.46 510.64 L456.26 511.00Z M457.21 511.00 L458.01 510.65 L459.60 510.57 L461.19 510.65 L461.99 511.00Z M463.73 511.00 L464.53 510.87 L465.66 510.83 L466.79 510.87 L467.59 511.00Z M469.09 511.00 L469.89 510.68 L472.23 510.60 L474.57 510.68 L475.37 511.00Z M499.17 511.00 L499.97 510.83 L502.56 510.78 L505.16 510.83 L505.96 511.00Z M521.95 511.00 L522.75 510.81 L526.28 510.77 L529.81 510.81 L530.61 511.00Z M531.92 511.00 L532.72 510.83 L535.10 510.78 L537.48 510.83 L538.28 511.00Z M543.83 511.00 L544.63 510.66 L545.72 510.57 L546.81 510.66 L547.61 511.00Z M559.08 511.00 L559.88 510.69 L563.67 510.61 L567.46 510.69 L568.26 511.00Z M582.50 511.00 L583.30 510.88 L587.00 510.86 L590.69 510.88 L591.49 511.00Z M592.24 511.00 L593.04 510.64 L596.33 510.55 L599.61 510.64 L600.41 511.00Z M604.02 511.00 L604.82 510.83 L608.01 510.79 L611.20 510.83 L612.00 511.00Z M615.69 511.00 L616.49 510.79 L619.77 510.74 L623.06 510.79 L623.86 511.00Z M626.18 511.00 L626.98 510.70 L629.89 510.62 L632.81 510.70 L633.61 511.00Z M649.87 511.00 L650.67 510.85 L655.05 510.81 L659.43 510.85 L660.23 511.00Z M674.17 511.00 L674.97 510.80 L678.40 510.75 L681.83 510.80 L682.63 511.00Z M694.08 511.00 L694.88 510.77 L696.23 510.72 L697.59 510.77 L698.39 511.00Z M703.67 511.00 L704.47 510.68 L706.31 510.60 L708.16 510.68 L708.96 511.00Z M711.21 511.00 L712.01 510.75 L713.72 510.68 L715.43 510.75 L716.23 511.00Z M719.99 511.00 L720.79 510.66 L722.81 510.58 L724.82 510.66 L725.62 511.00Z M726.87 511.00 L727.67 510.63 L731.47 510.54 L735.26 510.63 L736.06 511.00Z M739.57 511.00 L740.37 510.62 L744.56 510.53 L748.74 510.62 L749.54 511.00Z M752.73 511.00 L753.53 510.80 L754.30 510.75 L755.08 510.80 L755.88 511.00Z M758.92 511.00 L759.72 510.64 L763.13 510.55 L766.53 510.64 L767.33 511.00Z M767.90 511.00 L768.70 510.67 L773.40 510.58 L778.09 510.67 L778.89 511.00Z M780.01 511.00 L780.81 510.62 L781.72 510.53 L782.63 510.62 L783.43 511.00Z M809.66 511.00 L810.46 510.73 L814.19 510.66 L817.92 510.73 L818.72 511.00Z M820.29 511.00 L821.09 510.71 L824.45 510.63 L827.82 510.71 L828.62 511.00Z M833.12 511.00 L833.92 510.62 L838.53 510.52 L843.15 510.62 L843.95 511.00Z M846.03 511.00 L846.83 510.69 L849.98 510.62 L853.14 510.69 L853.94 511.00Z M859.56 511.00 L860.36 510.67 L862.90 510.59 L865.44 510.67 L866.24 511.00Z M868.28 511.00 L869.08 510.66 L869.87 510.58 L870.66 510.66 L871.46 511.00Z M877.20 511.00 L878.00 510.81 L881.13 510.76 L884.25 510.81 L885.05 511.00Z M887.62 511.00 L888.42 510.87 L889.91 510.84 L891.40 510.87 L892.20 511.00Z M894.43 511.00 L895.23 510.69 L897.74 510.61 L900.25 510.69 L901.05 511.00Z M903.97 511.00 L904.77 510.81 L906.77 510.76 L908.76 510.81 L909.56 511.00Z M910.60 511.00 L911.40 510.87 L913.70 510.84 L916.00 510.87 L916.80 511.00Z M918.94 511.00 L919.74 510.76 L924.30 510.70 L928.86 510.76 L929.66 511.00Z M933.04 511.00 L933.84 510.69 L937.82 510.61 L941.80 510.69 L942.60 511.00Z M943.27 511.00 L944.07 510.68 L945.34 510.59 L946.61 510.68 L947.41 511.00Z M953.28 511.00 L954.08 510.65 L957.32 510.57 L960.56 510.65 L961.36 511.00Z M967.16 511.00 L967.96 510.62 L971.29 510.52 L974.62 510.62 L975.42 511.00Z M985.39 511.00 L986.19 510.90 L987.07 510.87 L987.94 510.90 L988.74 511.00Z M992.23 511.00 L993.03 510.90 L995.18 510.87 L997.32 510.90 L998.12 511.00Z M1003.44 511.00 L1004.24 510.66 L1007.85 510.57 L1011.45 510.66 L1012.25 511.00Z M1032.29 511.00 L1033.09 510.65 L1036.16 510.56 L1039.22 510.65 L1040.02 511.00Z M1045.56 511.00 L1046.36 510.81 L1050.17 510.77 L1053.97 510.81 L1054.77 511.00Z M1058.23 511.00 L1059.03 510.66 L1061.51 510.58 L1064.00 510.66 L1064.80 511.00Z M1069.38 511.00 L1070.18 510.82 L1073.29 510.78 L1076.41 510.82 L1077.21 511.00Z M1083.11 511.00 L1083.91 510.69 L1087.15 510.61 L1090.40 510.69 L1091.20 511.00Z M1092.35 511.00 L1093.15 510.72 L1095.64 510.65 L1098.14 510.72 L1098.94 511.00Z M1102.04 511.00 L1102.84 510.88 L1105.72 510.85 L1108.59 510.88 L1109.39 511.00Z M1110.56 511.00 L1111.36 510.83 L1113.34 510.79 L1115.31 510.83 L1116.11 511.00Z M1130.13 511.00 L1130.93 510.90 L1134.58 510.88 L1138.23 510.90 L1139.03 511.00Z M1145.03 511.00 L1145.83 510.64 L1149.31 510.55 L1152.79 510.64 L1153.59 511.00Z M1155.42 511.00 L1156.22 510.74 L1157.31 510.68 L1158.40 510.74 L1159.20 511.00Z M1162.29 511.00 L1163.09 510.90 L1164.34 510.87 L1165.60 510.90 L1166.40 511.00Z M1171.99 511.00 L1172.79 510.73 L1176.10 510.66 L1179.41 510.73 L1180.21 511.00Z M1183.10 511.00 L1183.90 510.71 L1186.07 510.64 L1188.25 510.71 L1189.05 511.00Z M1193.96 511.00 L1194.76 510.68 L1196.56 510.60 L1198.36 510.68 L1199.16 511.00Z M1200.46 511.00 L1201.26 510.64 L1205.15 510.56 L1209.04 510.64 L1209.84 511.00Z M1211.43 511.00 L1212.23 510.72 L1216.78 510.66 L1221.32 510.72 L1222.12 511.00Z M1228.06 511.00 L1228.86 510.81 L1231.82 510.77 L1234.79 510.81 L1235.59 511.00Z M1238.12 511.00 L1238.92 510.78 L1241.93 510.72 L1244.94 510.78 L1245.74 511.00Z M1250.26 511.00 L1251.06 510.65 L1252.99 510.56 L1254.91 510.65 L1255.71 511.00Z M1261.40 511.00 L1262.20 510.64 L1263.51 510.55 L1264.83 510.64 L1265.63 511.00Z M1267.13 511.00 L1267.93 510.75 L1272.28 510.69 L1276.62 510.75 L1277.42 511.00Z M1279.08 511.00 L1279.88 510.66 L1284.57 510.58 L1289.27 510.66 L1290.07 511.00Z M1295.48 511.00 L1296.28 510.69 L1297.13 510.62 L1297.98 510.69 L1298.78 511.00Z M1317.38 511.00 L1318.18 510.77 L1322.61 510.72 L1327.05 510.77 L1327.85 511.00Z" fill="#F015E0"/>
<line x1="352.0" y1="511.00" x2="1369.0" y2="511.00" stroke="#000" stroke-width="0.57"/>
<text x="118.92" y="464.60" font-size="23.47" fill="#1a1a1a" letter-spacing="0.519">Lower Progenitors</text>
<path d="M499.40 632.50 L500.00 631.00 L500.50 629.60 L501.00 630.70 L501.60 630.00 L502.10 628.90 L502.60 626.40 L503.90 626.40 L504.25 625.40 L504.96 618.20 L505.57 603.90 L505.90 590.10 L506.14 575.80 L506.75 561.50 L507.10 554.50 L507.46 549.50 L507.85 554.50 L508.50 561.50 L509.00 575.80 L509.25 590.10 L509.40 603.90 L509.90 618.20 L510.30 625.40 L510.57 628.90 L510.93 621.80 L511.30 607.50 L511.75 593.20 L512.10 587.50 L512.40 584.40 L512.70 587.50 L513.00 593.20 L513.36 600.40 L513.70 607.50 L514.25 611.10 L514.40 612.50 L515.70 612.50 L516.04 618.20 L516.57 621.80 L517.10 624.60 L517.50 625.00 L518.70 625.00 L519.40 628.90 L520.30 632.50Z M533.80 632.50 L534.28 631.87 L534.76 631.60 L535.24 631.60 L535.72 631.87 L536.20 632.50Z M537.00 632.50 L537.52 631.38 L538.04 630.90 L538.56 630.90 L539.08 631.38 L539.60 632.50Z M542.10 632.50 L542.58 631.45 L543.06 631.00 L543.54 631.00 L544.02 631.45 L544.50 632.50Z M558.00 632.50 L558.80 632.15 L559.60 632.00 L560.40 632.00 L561.20 632.15 L562.00 632.50Z M619.80 632.50 L620.28 631.87 L620.76 631.60 L621.24 631.60 L621.72 631.87 L622.20 632.50Z M728.00 632.50 L728.80 632.15 L729.60 632.00 L730.40 632.00 L731.20 632.15 L732.00 632.50Z M797.00 632.50 L798.20 632.08 L799.40 631.90 L800.60 631.90 L801.80 632.08 L803.00 632.50Z M844.00 632.50 L844.80 631.94 L845.60 631.70 L846.40 631.70 L847.20 631.94 L848.00 632.50Z M852.70 632.50 L853.34 631.31 L853.98 630.80 L854.62 630.80 L855.26 631.31 L855.90 632.50Z M856.80 632.50 L857.28 632.01 L857.76 631.80 L858.24 631.80 L858.72 632.01 L859.20 632.50Z M868.00 632.50 L868.80 632.01 L869.60 631.80 L870.40 631.80 L871.20 632.01 L872.00 632.50Z M891.00 632.50 L891.60 631.31 L892.20 630.80 L892.80 630.80 L893.40 631.31 L894.00 632.50Z M928.80 632.50 L929.40 631.31 L930.00 630.80 L930.60 630.80 L931.20 631.31 L931.80 632.50Z M932.00 632.50 L932.60 631.80 L933.20 631.50 L933.80 631.50 L934.40 631.80 L935.00 632.50Z M948.00 632.50 L948.80 632.15 L949.60 632.00 L950.40 632.00 L951.20 632.15 L952.00 632.50Z M978.50 632.50 L979.10 631.94 L979.70 631.70 L980.30 631.70 L980.90 631.94 L981.50 632.50Z M986.70 632.50 L987.22 631.52 L987.74 631.10 L988.26 631.10 L988.78 631.52 L989.30 632.50Z M1117.00 632.50 L1118.20 632.08 L1119.40 631.90 L1120.60 631.90 L1121.80 632.08 L1123.00 632.50Z M1138.00 632.50 L1138.80 632.08 L1139.60 631.90 L1140.40 631.90 L1141.20 632.08 L1142.00 632.50Z M1166.90 632.50 L1167.34 631.38 L1167.78 630.90 L1168.22 630.90 L1168.66 631.38 L1169.10 632.50Z M1216.50 632.50 L1217.10 631.87 L1217.70 631.60 L1218.30 631.60 L1218.90 631.87 L1219.50 632.50Z M1220.70 632.50 L1221.22 631.66 L1221.74 631.30 L1222.26 631.30 L1222.78 631.66 L1223.30 632.50Z M1229.10 632.50 L1229.62 630.96 L1230.14 630.30 L1230.66 630.30 L1231.18 630.96 L1231.70 632.50Z M1239.50 632.50 L1240.10 632.08 L1240.70 631.90 L1241.30 631.90 L1241.90 632.08 L1242.50 632.50Z M1257.30 632.50 L1257.78 631.66 L1258.26 631.30 L1258.74 631.30 L1259.22 631.66 L1259.70 632.50Z M1285.50 632.50 L1286.10 631.66 L1286.70 631.30 L1287.30 631.30 L1287.90 631.66 L1288.50 632.50Z M1303.50 632.50 L1304.10 631.94 L1304.70 631.70 L1305.30 631.70 L1305.90 631.94 L1306.50 632.50Z M1307.20 632.50 L1307.72 631.38 L1308.24 630.90 L1308.76 630.90 L1309.28 631.38 L1309.80 632.50Z M1310.80 632.50 L1311.28 631.94 L1311.76 631.70 L1312.24 631.70 L1312.72 631.94 L1313.20 632.50Z M877.50 632.50 L878.60 631.00 L879.20 627.50 L880.00 616.50 L880.60 611.50 L881.10 610.50 L881.70 613.50 L882.50 618.00 L883.30 615.50 L884.00 612.00 L884.60 610.80 L885.20 612.50 L885.70 614.00 L886.20 609.50 L886.60 605.50 L887.10 609.50 L887.80 618.50 L888.60 626.50 L889.60 631.30 L890.30 632.50Z M1221.50 632.50 L1222.30 631.40 L1224.50 631.00 L1224.90 628.50 L1225.00 610.50 L1225.43 606.40 L1226.00 607.50 L1226.70 609.50 L1227.30 612.50 L1227.70 614.60 L1227.85 620.50 L1228.00 623.80 L1228.40 627.50 L1228.86 629.50 L1229.50 630.90 L1230.00 630.30 L1230.57 629.80 L1231.20 630.90 L1232.00 632.50Z M1288.30 632.50 L1289.50 631.50 L1290.20 629.00 L1291.20 626.30 L1292.10 625.60 L1293.00 626.50 L1293.90 629.00 L1294.70 631.50 L1295.60 632.50Z M690.80 632.50 L691.10 631.64 L691.60 631.02 L692.00 630.60 L692.40 629.90 L693.00 630.06 L693.90 630.60 L694.30 631.20 L694.70 631.64 L695.00 632.50Z M431.20 632.50 L432.00 632.18 L436.19 632.10 L440.37 632.18 L441.17 632.50Z M443.49 632.50 L444.29 632.16 L447.85 632.07 L451.40 632.16 L452.20 632.50Z M485.24 632.50 L486.04 632.24 L488.61 632.18 L491.17 632.24 L491.97 632.50Z M505.92 632.50 L506.72 632.33 L510.73 632.28 L514.75 632.33 L515.55 632.50Z M521.12 632.50 L521.92 632.10 L524.02 632.00 L526.12 632.10 L526.92 632.50Z M548.43 632.50 L549.23 632.39 L552.03 632.36 L554.82 632.39 L555.62 632.50Z M556.91 632.50 L557.71 632.21 L559.06 632.14 L560.40 632.21 L561.20 632.50Z M562.54 632.50 L563.34 632.16 L564.08 632.07 L564.82 632.16 L565.62 632.50Z M578.00 632.50 L578.80 632.19 L581.64 632.11 L584.47 632.19 L585.27 632.50Z M614.92 632.50 L615.72 632.13 L616.53 632.03 L617.34 632.13 L618.14 632.50Z M631.67 632.50 L632.47 632.22 L636.42 632.15 L640.37 632.22 L641.17 632.50Z M656.02 632.50 L656.82 632.34 L660.28 632.30 L663.73 632.34 L664.53 632.50Z M666.86 632.50 L667.66 632.38 L669.07 632.35 L670.48 632.38 L671.28 632.50Z M673.05 632.50 L673.85 632.16 L675.54 632.08 L677.24 632.16 L678.04 632.50Z M679.64 632.50 L680.44 632.25 L681.36 632.19 L682.28 632.25 L683.08 632.50Z M686.50 632.50 L687.30 632.34 L688.95 632.31 L690.60 632.34 L691.40 632.50Z M692.29 632.50 L693.09 632.23 L697.33 632.17 L701.57 632.23 L702.37 632.50Z M705.90 632.50 L706.70 632.25 L711.18 632.19 L715.67 632.25 L716.47 632.50Z M726.23 632.50 L727.03 632.36 L731.32 632.33 L735.61 632.36 L736.41 632.50Z M741.18 632.50 L741.98 632.26 L746.34 632.21 L750.70 632.26 L751.50 632.50Z M755.09 632.50 L755.89 632.40 L758.30 632.37 L760.71 632.40 L761.51 632.50Z M766.86 632.50 L767.66 632.35 L768.51 632.31 L769.36 632.35 L770.16 632.50Z M797.59 632.50 L798.39 632.31 L799.47 632.26 L800.55 632.31 L801.35 632.50Z M835.65 632.50 L836.45 632.34 L840.72 632.30 L845.00 632.34 L845.80 632.50Z M860.91 632.50 L861.71 632.33 L862.99 632.29 L864.27 632.33 L865.07 632.50Z M870.69 632.50 L871.49 632.19 L872.70 632.11 L873.91 632.19 L874.71 632.50Z M876.78 632.50 L877.58 632.35 L880.69 632.31 L883.80 632.35 L884.60 632.50Z M901.27 632.50 L902.07 632.39 L904.95 632.37 L907.83 632.39 L908.63 632.50Z M956.50 632.50 L957.30 632.27 L958.23 632.21 L959.16 632.27 L959.96 632.50Z M964.07 632.50 L964.87 632.39 L968.83 632.36 L972.80 632.39 L973.60 632.50Z M979.05 632.50 L979.85 632.17 L983.78 632.08 L987.72 632.17 L988.52 632.50Z M1008.08 632.50 L1008.88 632.39 L1010.11 632.37 L1011.34 632.39 L1012.14 632.50Z M1024.85 632.50 L1025.65 632.12 L1029.37 632.02 L1033.08 632.12 L1033.88 632.50Z M1050.28 632.50 L1051.08 632.34 L1052.40 632.30 L1053.71 632.34 L1054.51 632.50Z M1055.17 632.50 L1055.97 632.30 L1060.20 632.24 L1064.42 632.30 L1065.22 632.50Z M1070.12 632.50 L1070.92 632.17 L1071.65 632.09 L1072.37 632.17 L1073.17 632.50Z M1074.16 632.50 L1074.96 632.10 L1077.25 632.01 L1079.55 632.10 L1080.35 632.50Z M1082.41 632.50 L1083.21 632.22 L1084.62 632.16 L1086.03 632.22 L1086.83 632.50Z M1092.00 632.50 L1092.80 632.12 L1094.96 632.02 L1097.11 632.12 L1097.91 632.50Z M1099.68 632.50 L1100.48 632.39 L1101.29 632.36 L1102.09 632.39 L1102.89 632.50Z M1106.62 632.50 L1107.42 632.18 L1110.33 632.10 L1113.23 632.18 L1114.03 632.50Z M1117.82 632.50 L1118.62 632.31 L1123.26 632.26 L1127.90 632.31 L1128.70 632.50Z M1130.22 632.50 L1131.02 632.21 L1135.58 632.14 L1140.14 632.21 L1140.94 632.50Z M1149.69 632.50 L1150.49 632.13 L1153.24 632.04 L1156.00 632.13 L1156.80 632.50Z M1187.72 632.50 L1188.52 632.31 L1190.02 632.27 L1191.51 632.31 L1192.31 632.50Z M1224.31 632.50 L1225.11 632.38 L1228.62 632.36 L1232.12 632.38 L1232.92 632.50Z M1235.11 632.50 L1235.91 632.31 L1239.52 632.26 L1243.12 632.31 L1243.92 632.50Z M1266.98 632.50 L1267.78 632.31 L1268.82 632.26 L1269.85 632.31 L1270.65 632.50Z M1279.08 632.50 L1279.88 632.11 L1281.69 632.02 L1283.49 632.11 L1284.29 632.50Z M1292.99 632.50 L1293.79 632.24 L1298.41 632.17 L1303.04 632.24 L1303.84 632.50Z M1306.37 632.50 L1307.17 632.36 L1309.25 632.32 L1311.33 632.36 L1312.13 632.50Z M1316.43 632.50 L1317.23 632.12 L1321.41 632.02 L1325.60 632.12 L1326.40 632.50Z" fill="#B814A8"/>
<line x1="352.0" y1="632.50" x2="1369.0" y2="632.50" stroke="#000" stroke-width="0.57"/>
<text x="174.87" y="585.40" font-size="23.47" fill="#1a1a1a" letter-spacing="0.419">Reticular</text>
<path d="M500.00 754.00 L501.00 752.00 L502.00 749.80 L502.50 748.80 L503.20 749.20 L503.90 749.50 L504.60 747.30 L505.14 740.20 L505.70 725.90 L506.04 718.10 L506.30 708.05 L506.50 703.80 L506.90 693.10 L507.00 690.20 L507.15 680.00 L507.46 676.50 L507.80 680.00 L507.95 690.20 L508.20 693.10 L508.70 703.80 L508.90 708.05 L509.14 718.10 L509.36 725.90 L509.80 740.20 L510.14 747.30 L510.50 752.00 L510.93 749.20 L511.30 740.20 L511.75 729.50 L512.10 726.00 L512.40 723.80 L512.70 726.00 L513.00 729.50 L513.60 736.60 L514.07 738.40 L515.14 738.40 L515.70 743.80 L515.96 747.30 L516.40 750.90 L517.20 749.80 L518.00 748.20 L518.46 747.20 L518.90 749.00 L519.50 751.80 L520.00 754.00Z M442.50 754.00 L443.10 752.95 L443.70 752.50 L444.30 752.50 L444.90 752.95 L445.50 754.00Z M446.30 754.00 L446.78 753.37 L447.26 753.10 L447.74 753.10 L448.22 753.37 L448.70 754.00Z M467.00 754.00 L468.20 753.65 L469.40 753.50 L470.60 753.50 L471.80 753.65 L473.00 754.00Z M495.50 754.00 L496.10 753.51 L496.70 753.30 L497.30 753.30 L497.90 753.51 L498.50 754.00Z M523.00 754.00 L523.80 753.44 L524.60 753.20 L525.40 753.20 L526.20 753.44 L527.00 754.00Z M533.00 754.00 L533.80 753.37 L534.60 753.10 L535.40 753.10 L536.20 753.37 L537.00 754.00Z M537.20 754.00 L537.72 752.81 L538.24 752.30 L538.76 752.30 L539.28 752.81 L539.80 754.00Z M542.00 754.00 L542.80 753.30 L543.60 753.00 L544.40 753.00 L545.20 753.30 L546.00 754.00Z M550.00 754.00 L550.80 753.51 L551.60 753.30 L552.40 753.30 L553.20 753.51 L554.00 754.00Z M558.00 754.00 L558.80 753.58 L559.60 753.40 L560.40 753.40 L561.20 753.58 L562.00 754.00Z M597.00 754.00 L598.20 753.65 L599.40 753.50 L600.60 753.50 L601.80 753.65 L603.00 754.00Z M695.80 754.00 L696.28 753.37 L696.76 753.10 L697.24 753.10 L697.72 753.37 L698.20 754.00Z M707.00 754.00 L708.20 753.58 L709.40 753.40 L710.60 753.40 L711.80 753.58 L713.00 754.00Z M737.00 754.00 L738.20 753.65 L739.40 753.50 L740.60 753.50 L741.80 753.65 L743.00 754.00Z M843.50 754.00 L844.50 753.37 L845.50 753.10 L846.50 753.10 L847.50 753.37 L848.50 754.00Z M863.00 754.00 L863.80 753.58 L864.60 753.40 L865.40 753.40 L866.20 753.58 L867.00 754.00Z M869.50 754.00 L870.10 753.16 L870.70 752.80 L871.30 752.80 L871.90 753.16 L872.50 754.00Z M890.90 754.00 L891.54 752.88 L892.18 752.40 L892.82 752.40 L893.46 752.88 L894.10 754.00Z M930.00 754.00 L930.80 753.44 L931.60 753.20 L932.40 753.20 L933.20 753.44 L934.00 754.00Z M955.00 754.00 L956.20 753.51 L957.40 753.30 L958.60 753.30 L959.80 753.51 L961.00 754.00Z M973.00 754.00 L973.80 753.51 L974.60 753.30 L975.40 753.30 L976.20 753.51 L977.00 754.00Z M986.50 754.00 L987.10 753.37 L987.70 753.10 L988.30 753.10 L988.90 753.37 L989.50 754.00Z M1127.00 754.00 L1128.20 753.58 L1129.40 753.40 L1130.60 753.40 L1131.80 753.58 L1133.00 754.00Z M1166.00 754.00 L1166.80 753.58 L1167.60 753.40 L1168.40 753.40 L1169.20 753.58 L1170.00 754.00Z M1197.00 754.00 L1198.20 753.51 L1199.40 753.30 L1200.60 753.30 L1201.80 753.51 L1203.00 754.00Z M1212.00 754.00 L1212.60 753.23 L1213.20 752.90 L1213.80 752.90 L1214.40 753.23 L1215.00 754.00Z M1217.50 754.00 L1218.10 753.37 L1218.70 753.10 L1219.30 753.10 L1219.90 753.37 L1220.50 754.00Z M1231.00 754.00 L1231.52 753.16 L1232.04 752.80 L1232.56 752.80 L1233.08 753.16 L1233.60 754.00Z M1256.20 754.00 L1256.92 753.37 L1257.64 753.10 L1258.36 753.10 L1259.08 753.37 L1259.80 754.00Z M1285.50 754.00 L1286.10 753.37 L1286.70 753.10 L1287.30 753.10 L1287.90 753.37 L1288.50 754.00Z M1318.00 754.00 L1318.80 753.65 L1319.60 753.50 L1320.40 753.50 L1321.20 753.65 L1322.00 754.00Z M853.00 754.00 L853.90 752.50 L854.50 750.00 L855.40 748.70 L856.30 750.00 L857.00 752.80 L857.70 754.00Z M876.50 754.00 L878.00 752.80 L879.00 750.00 L879.80 745.00 L880.40 738.50 L881.00 734.50 L881.40 733.00 L881.90 735.00 L882.50 738.50 L883.00 737.50 L883.40 736.50 L883.90 737.40 L884.50 738.50 L885.00 736.00 L885.60 732.50 L886.60 732.70 L887.20 738.00 L888.00 745.00 L889.00 751.00 L889.80 753.20 L890.50 754.00Z M1224.00 754.00 L1224.60 751.00 L1225.00 746.00 L1225.14 731.80 L1225.80 730.00 L1226.50 725.10 L1226.90 732.00 L1227.20 735.50 L1227.70 735.80 L1227.90 742.00 L1228.14 746.00 L1228.60 751.00 L1229.00 754.00Z M1289.30 754.00 L1290.20 752.00 L1291.00 749.80 L1292.10 749.20 L1293.30 750.80 L1294.30 752.70 L1295.20 754.00Z M1305.50 754.00 L1306.50 752.70 L1307.70 751.30 L1308.70 752.70 L1309.80 754.00Z M690.80 754.00 L691.10 752.81 L691.60 751.95 L692.00 751.37 L692.40 750.40 L693.00 750.62 L693.90 751.37 L694.30 752.20 L694.70 752.81 L695.00 754.00Z M437.57 754.00 L438.37 753.80 L442.15 753.75 L445.92 753.80 L446.72 754.00Z M449.13 754.00 L449.93 753.86 L453.64 753.82 L457.34 753.86 L458.14 754.00Z M460.58 754.00 L461.38 753.77 L462.75 753.72 L464.13 753.77 L464.93 754.00Z M467.96 754.00 L468.76 753.62 L472.98 753.53 L477.21 753.62 L478.01 754.00Z M538.12 754.00 L538.92 753.75 L542.92 753.68 L546.92 753.75 L547.72 754.00Z M553.52 754.00 L554.32 753.62 L558.19 753.53 L562.06 753.62 L562.86 754.00Z M564.04 754.00 L564.84 753.82 L567.22 753.77 L569.59 753.82 L570.39 754.00Z M580.75 754.00 L581.55 753.73 L586.12 753.66 L590.69 753.73 L591.49 754.00Z M593.04 754.00 L593.84 753.64 L594.77 753.55 L595.70 753.64 L596.50 754.00Z M611.70 754.00 L612.50 753.71 L613.50 753.64 L614.50 753.71 L615.30 754.00Z M635.96 754.00 L636.76 753.64 L638.13 753.55 L639.50 753.64 L640.30 754.00Z M642.15 754.00 L642.95 753.64 L643.82 753.55 L644.70 753.64 L645.50 754.00Z M665.35 754.00 L666.15 753.65 L669.58 753.56 L673.02 753.65 L673.82 754.00Z M676.91 754.00 L677.71 753.85 L678.45 753.82 L679.19 753.85 L679.99 754.00Z M697.46 754.00 L698.26 753.68 L702.39 753.59 L706.51 753.68 L707.31 754.00Z M709.73 754.00 L710.53 753.85 L712.68 753.81 L714.83 753.85 L715.63 754.00Z M717.99 754.00 L718.79 753.83 L722.73 753.79 L726.67 753.83 L727.47 754.00Z M739.22 754.00 L740.02 753.70 L740.87 753.62 L741.71 753.70 L742.51 754.00Z M744.93 754.00 L745.73 753.70 L750.19 753.62 L754.65 753.70 L755.45 754.00Z M760.52 754.00 L761.32 753.76 L763.79 753.70 L766.26 753.76 L767.06 754.00Z M770.17 754.00 L770.97 753.65 L771.78 753.57 L772.58 753.65 L773.38 754.00Z M776.35 754.00 L777.15 753.73 L778.56 753.66 L779.96 753.73 L780.76 754.00Z M781.43 754.00 L782.23 753.64 L783.77 753.55 L785.31 753.64 L786.11 754.00Z M798.91 754.00 L799.71 753.88 L802.21 753.85 L804.71 753.88 L805.51 754.00Z M811.23 754.00 L812.03 753.72 L816.29 753.65 L820.55 753.72 L821.35 754.00Z M836.36 754.00 L837.16 753.68 L838.25 753.60 L839.33 753.68 L840.13 754.00Z M841.19 754.00 L841.99 753.61 L844.79 753.51 L847.59 753.61 L848.39 754.00Z M861.46 754.00 L862.26 753.88 L864.82 753.84 L867.38 753.88 L868.18 754.00Z M872.32 754.00 L873.12 753.61 L876.59 753.51 L880.05 753.61 L880.85 754.00Z M890.01 754.00 L890.81 753.60 L893.40 753.50 L895.98 753.60 L896.78 754.00Z M899.81 754.00 L900.61 753.81 L902.98 753.76 L905.36 753.81 L906.16 754.00Z M918.86 754.00 L919.66 753.76 L922.06 753.70 L924.45 753.76 L925.25 754.00Z M927.17 754.00 L927.97 753.80 L930.40 753.74 L932.83 753.80 L933.63 754.00Z M944.27 754.00 L945.07 753.79 L947.66 753.74 L950.24 753.79 L951.04 754.00Z M956.90 754.00 L957.70 753.85 L960.19 753.81 L962.69 753.85 L963.49 754.00Z M988.36 754.00 L989.16 753.76 L990.02 753.70 L990.89 753.76 L991.69 754.00Z M1008.92 754.00 L1009.72 753.77 L1012.24 753.71 L1014.77 753.77 L1015.57 754.00Z M1017.87 754.00 L1018.67 753.73 L1021.50 753.66 L1024.34 753.73 L1025.14 754.00Z M1027.63 754.00 L1028.43 753.76 L1032.68 753.71 L1036.92 753.76 L1037.72 754.00Z M1055.63 754.00 L1056.43 753.68 L1058.55 753.61 L1060.67 753.68 L1061.47 754.00Z M1064.63 754.00 L1065.43 753.79 L1067.98 753.73 L1070.52 753.79 L1071.32 754.00Z M1076.24 754.00 L1077.04 753.78 L1079.11 753.73 L1081.18 753.78 L1081.98 754.00Z M1087.24 754.00 L1088.04 753.85 L1092.20 753.81 L1096.37 753.85 L1097.17 754.00Z M1099.24 754.00 L1100.04 753.65 L1101.49 753.56 L1102.95 753.65 L1103.75 754.00Z M1118.84 754.00 L1119.64 753.75 L1122.70 753.68 L1125.75 753.75 L1126.55 754.00Z M1128.63 754.00 L1129.43 753.87 L1132.22 753.83 L1135.00 753.87 L1135.80 754.00Z M1153.66 754.00 L1154.46 753.85 L1155.57 753.82 L1156.69 753.85 L1157.49 754.00Z M1162.79 754.00 L1163.59 753.61 L1167.54 753.51 L1171.49 753.61 L1172.29 754.00Z M1176.94 754.00 L1177.74 753.85 L1180.65 753.82 L1183.55 753.85 L1184.35 754.00Z M1186.38 754.00 L1187.18 753.66 L1191.13 753.57 L1195.07 753.66 L1195.87 754.00Z M1197.10 754.00 L1197.90 753.90 L1199.76 753.87 L1201.62 753.90 L1202.42 754.00Z M1220.12 754.00 L1220.92 753.73 L1225.62 753.66 L1230.31 753.73 L1231.11 754.00Z M1233.15 754.00 L1233.95 753.74 L1234.67 753.67 L1235.40 753.74 L1236.20 754.00Z M1240.57 754.00 L1241.37 753.62 L1245.17 753.53 L1248.98 753.62 L1249.78 754.00Z M1254.02 754.00 L1254.82 753.65 L1255.88 753.56 L1256.93 753.65 L1257.73 754.00Z M1270.03 754.00 L1270.83 753.70 L1273.59 753.62 L1276.34 753.70 L1277.14 754.00Z M1280.36 754.00 L1281.16 753.85 L1284.93 753.82 L1288.71 753.85 L1289.51 754.00Z M1293.40 754.00 L1294.20 753.61 L1297.88 753.51 L1301.56 753.61 L1302.36 754.00Z" fill="#3A0F66"/>
<line x1="352.0" y1="754.00" x2="1369.0" y2="754.00" stroke="#000" stroke-width="0.57"/>
<text x="150.32" y="707.70" font-size="23.47" fill="#1a1a1a" letter-spacing="0.550">Intermediate</text>
<path d="M500.00 875.50 L500.60 873.00 L501.40 869.70 L503.80 869.70 L504.30 868.50 L504.80 866.10 L505.60 850.10 L505.80 840.00 L506.04 831.10 L506.10 803.50 L506.40 800.00 L507.80 800.00 L508.00 803.50 L508.50 815.00 L509.07 829.30 L509.50 840.00 L509.60 850.10 L510.00 866.10 L510.40 869.70 L510.80 866.10 L511.20 850.10 L511.40 840.00 L511.90 834.50 L512.40 829.70 L512.80 834.50 L513.20 838.10 L513.60 848.10 L513.80 849.70 L514.60 849.70 L515.40 858.10 L516.20 866.10 L516.80 870.10 L517.50 871.50 L518.20 871.30 L519.00 873.00 L520.00 875.50Z M397.70 875.50 L398.06 873.96 L398.42 873.30 L398.78 873.30 L399.14 873.96 L399.50 875.50Z M399.50 875.50 L399.90 874.80 L400.30 874.50 L400.70 874.50 L401.10 874.80 L401.50 875.50Z M402.50 875.50 L403.10 875.01 L403.70 874.80 L404.30 874.80 L404.90 875.01 L405.50 875.50Z M406.80 875.50 L407.28 874.52 L407.76 874.10 L408.24 874.10 L408.72 874.52 L409.20 875.50Z M409.50 875.50 L409.90 874.94 L410.30 874.70 L410.70 874.70 L411.10 874.94 L411.50 875.50Z M434.80 875.50 L435.28 874.94 L435.76 874.70 L436.24 874.70 L436.72 874.94 L437.20 875.50Z M440.80 875.50 L441.28 874.94 L441.76 874.70 L442.24 874.70 L442.72 874.94 L443.20 875.50Z M444.50 875.50 L444.98 874.38 L445.46 873.90 L445.94 873.90 L446.42 874.38 L446.90 875.50Z M446.80 875.50 L447.28 874.59 L447.76 874.20 L448.24 874.20 L448.72 874.59 L449.20 875.50Z M449.30 875.50 L449.78 874.66 L450.26 874.30 L450.74 874.30 L451.22 874.66 L451.70 875.50Z M458.70 875.50 L459.10 874.87 L459.50 874.60 L459.90 874.60 L460.30 874.87 L460.70 875.50Z M461.00 875.50 L461.40 874.73 L461.80 874.40 L462.20 874.40 L462.60 874.73 L463.00 875.50Z M488.30 875.50 L488.78 874.80 L489.26 874.50 L489.74 874.50 L490.22 874.80 L490.70 875.50Z M491.00 875.50 L491.40 874.66 L491.80 874.30 L492.20 874.30 L492.60 874.66 L493.00 875.50Z M495.00 875.50 L495.40 874.10 L495.80 873.50 L496.20 873.50 L496.60 874.10 L497.00 875.50Z M496.34 875.50 L496.65 874.59 L497.03 873.47 L497.45 872.90 L497.75 872.90 L498.17 873.47 L498.55 874.59 L498.87 875.50Z M522.70 875.50 L523.10 873.96 L523.50 873.30 L523.90 873.30 L524.30 873.96 L524.70 875.50Z M525.50 875.50 L525.82 874.80 L526.14 874.50 L526.46 874.50 L526.78 874.80 L527.10 875.50Z M526.35 875.50 L526.64 873.75 L526.98 871.60 L527.36 870.50 L527.64 870.50 L528.02 871.60 L528.36 873.75 L528.65 875.50Z M527.65 875.50 L527.94 873.96 L528.28 872.07 L528.66 871.10 L528.94 871.10 L529.32 872.07 L529.66 873.96 L529.95 875.50Z M529.20 875.50 L529.52 874.10 L529.84 873.50 L530.16 873.50 L530.48 874.10 L530.80 875.50Z M531.47 875.50 L531.72 874.24 L532.03 872.69 L532.38 871.90 L532.62 871.90 L532.97 872.69 L533.28 874.24 L533.53 875.50Z M533.20 875.50 L533.52 874.24 L533.84 873.70 L534.16 873.70 L534.48 874.24 L534.80 875.50Z M534.47 875.50 L534.72 874.27 L535.03 872.77 L535.38 872.00 L535.62 872.00 L535.97 872.77 L536.28 874.27 L536.53 875.50Z M537.00 875.50 L537.40 874.45 L537.80 874.00 L538.20 874.00 L538.60 874.45 L539.00 875.50Z M538.50 875.50 L538.90 874.31 L539.30 873.80 L539.70 873.80 L540.10 874.31 L540.50 875.50Z M540.00 875.50 L540.40 874.80 L540.80 874.50 L541.20 874.50 L541.60 874.80 L542.00 875.50Z M543.30 875.50 L543.70 874.10 L544.10 873.50 L544.50 873.50 L544.90 874.10 L545.30 875.50Z M546.00 875.50 L546.40 874.94 L546.80 874.70 L547.20 874.70 L547.60 874.94 L548.00 875.50Z M550.00 875.50 L550.40 874.87 L550.80 874.60 L551.20 874.60 L551.60 874.87 L552.00 875.50Z M554.00 875.50 L554.40 874.94 L554.80 874.70 L555.20 874.70 L555.60 874.94 L556.00 875.50Z M559.00 875.50 L559.40 874.94 L559.80 874.70 L560.20 874.70 L560.60 874.94 L561.00 875.50Z M595.80 875.50 L596.28 874.80 L596.76 874.50 L597.24 874.50 L597.72 874.80 L598.20 875.50Z M612.50 875.50 L613.10 874.94 L613.70 874.70 L614.30 874.70 L614.90 874.94 L615.50 875.50Z M616.00 875.50 L616.40 875.01 L616.80 874.80 L617.20 874.80 L617.60 875.01 L618.00 875.50Z M632.50 875.50 L633.10 875.08 L633.70 874.90 L634.30 874.90 L634.90 875.08 L635.50 875.50Z M636.00 875.50 L636.40 874.80 L636.80 874.50 L637.20 874.50 L637.60 874.80 L638.00 875.50Z M644.40 875.50 L644.84 874.31 L645.28 873.80 L645.72 873.80 L646.16 874.31 L646.60 875.50Z M687.50 875.50 L687.90 874.59 L688.30 874.20 L688.70 874.20 L689.10 874.59 L689.50 875.50Z M693.50 875.50 L693.90 873.96 L694.30 873.30 L694.70 873.30 L695.10 873.96 L695.50 875.50Z M697.40 875.50 L697.88 873.82 L698.36 873.10 L698.84 873.10 L699.32 873.82 L699.80 875.50Z M701.00 875.50 L701.40 874.94 L701.80 874.70 L702.20 874.70 L702.60 874.94 L703.00 875.50Z M707.80 875.50 L708.24 874.59 L708.68 874.20 L709.12 874.20 L709.56 874.59 L710.00 875.50Z M712.00 875.50 L712.40 875.08 L712.80 874.90 L713.20 874.90 L713.60 875.08 L714.00 875.50Z M717.87 875.50 L718.12 874.24 L718.43 872.69 L718.78 871.90 L719.02 871.90 L719.37 872.69 L719.68 874.24 L719.93 875.50Z M721.00 875.50 L721.40 875.01 L721.80 874.80 L722.20 874.80 L722.60 875.01 L723.00 875.50Z M724.50 875.50 L724.94 874.73 L725.38 874.40 L725.82 874.40 L726.26 874.73 L726.70 875.50Z M732.00 875.50 L732.40 874.94 L732.80 874.70 L733.20 874.70 L733.60 874.94 L734.00 875.50Z M734.50 875.50 L734.90 874.87 L735.30 874.60 L735.70 874.60 L736.10 874.87 L736.50 875.50Z M737.00 875.50 L737.40 874.80 L737.80 874.50 L738.20 874.50 L738.60 874.80 L739.00 875.50Z M740.03 875.50 L740.35 873.92 L740.73 871.99 L741.15 871.00 L741.45 871.00 L741.87 871.99 L742.25 873.92 L742.56 875.50Z M760.70 875.50 L761.14 874.10 L761.58 873.50 L762.02 873.50 L762.46 874.10 L762.90 875.50Z M768.00 875.50 L768.40 874.87 L768.80 874.60 L769.20 874.60 L769.60 874.87 L770.00 875.50Z M771.50 875.50 L771.90 874.80 L772.30 874.50 L772.70 874.50 L773.10 874.80 L773.50 875.50Z M776.00 875.50 L776.40 874.73 L776.80 874.40 L777.20 874.40 L777.60 874.73 L778.00 875.50Z M778.50 875.50 L778.90 874.73 L779.30 874.40 L779.70 874.40 L780.10 874.73 L780.50 875.50Z M781.00 875.50 L781.40 874.73 L781.80 874.40 L782.20 874.40 L782.60 874.73 L783.00 875.50Z M784.00 875.50 L784.40 874.03 L784.80 873.40 L785.20 873.40 L785.60 874.03 L786.00 875.50Z M787.00 875.50 L787.40 874.87 L787.80 874.60 L788.20 874.60 L788.60 874.87 L789.00 875.50Z M801.70 875.50 L802.10 874.87 L802.50 874.60 L802.90 874.60 L803.30 874.87 L803.70 875.50Z M804.50 875.50 L804.90 874.87 L805.30 874.60 L805.70 874.60 L806.10 874.87 L806.50 875.50Z M836.50 875.50 L837.10 875.08 L837.70 874.90 L838.30 874.90 L838.90 875.08 L839.50 875.50Z M844.80 875.50 L845.28 874.94 L845.76 874.70 L846.24 874.70 L846.72 874.94 L847.20 875.50Z M848.00 875.50 L848.40 874.87 L848.80 874.60 L849.20 874.60 L849.60 874.87 L850.00 875.50Z M850.50 875.50 L850.90 874.66 L851.30 874.30 L851.70 874.30 L852.10 874.66 L852.50 875.50Z M853.40 875.50 L853.78 873.75 L854.23 871.60 L854.72 870.50 L855.08 870.50 L855.57 871.60 L856.02 873.75 L856.39 875.50Z M896.00 875.50 L896.40 874.87 L896.80 874.60 L897.20 874.60 L897.60 874.87 L898.00 875.50Z M899.00 875.50 L899.40 874.87 L899.80 874.60 L900.20 874.60 L900.60 874.87 L901.00 875.50Z M903.50 875.50 L903.90 874.80 L904.30 874.50 L904.70 874.50 L905.10 874.80 L905.50 875.50Z M906.20 875.50 L906.68 873.75 L907.16 873.00 L907.64 873.00 L908.12 873.75 L908.60 875.50Z M908.80 875.50 L909.28 874.10 L909.76 873.50 L910.24 873.50 L910.72 874.10 L911.20 875.50Z M929.00 875.50 L929.40 874.87 L929.80 874.60 L930.20 874.60 L930.60 874.87 L931.00 875.50Z M932.00 875.50 L932.40 874.87 L932.80 874.60 L933.20 874.60 L933.60 874.87 L934.00 875.50Z M979.60 875.50 L980.00 874.45 L980.40 874.00 L980.80 874.00 L981.20 874.45 L981.60 875.50Z M981.32 875.50 L981.67 874.24 L982.08 872.69 L982.53 871.90 L982.87 871.90 L983.32 872.69 L983.74 874.24 L984.08 875.50Z M1055.30 875.50 L1055.78 874.66 L1056.26 874.30 L1056.74 874.30 L1057.22 874.66 L1057.70 875.50Z M1058.00 875.50 L1058.40 874.45 L1058.80 874.00 L1059.20 874.00 L1059.60 874.45 L1060.00 875.50Z M1061.00 875.50 L1061.40 874.80 L1061.80 874.50 L1062.20 874.50 L1062.60 874.80 L1063.00 875.50Z M1090.00 875.50 L1090.40 874.80 L1090.80 874.50 L1091.20 874.50 L1091.60 874.80 L1092.00 875.50Z M1092.50 875.50 L1092.90 874.80 L1093.30 874.50 L1093.70 874.50 L1094.10 874.80 L1094.50 875.50Z M1102.00 875.50 L1102.40 874.94 L1102.80 874.70 L1103.20 874.70 L1103.60 874.94 L1104.00 875.50Z M1108.80 875.50 L1109.28 874.94 L1109.76 874.70 L1110.24 874.70 L1110.72 874.94 L1111.20 875.50Z M1115.40 875.50 L1115.80 874.03 L1116.20 873.40 L1116.60 873.40 L1117.00 874.03 L1117.40 875.50Z M1128.65 875.50 L1128.94 874.59 L1129.28 873.47 L1129.66 872.90 L1129.94 872.90 L1130.32 873.47 L1130.66 874.59 L1130.95 875.50Z M1131.50 875.50 L1131.90 874.80 L1132.30 874.50 L1132.70 874.50 L1133.10 874.80 L1133.50 875.50Z M1139.30 875.50 L1139.70 874.10 L1140.10 873.50 L1140.50 873.50 L1140.90 874.10 L1141.30 875.50Z M1142.25 875.50 L1142.54 874.45 L1142.88 873.16 L1143.26 872.50 L1143.54 872.50 L1143.92 873.16 L1144.26 874.45 L1144.55 875.50Z M1147.00 875.50 L1147.40 875.01 L1147.80 874.80 L1148.20 874.80 L1148.60 875.01 L1149.00 875.50Z M1173.80 875.50 L1174.28 875.01 L1174.76 874.80 L1175.24 874.80 L1175.72 875.01 L1176.20 875.50Z M1178.00 875.50 L1178.40 874.87 L1178.80 874.60 L1179.20 874.60 L1179.60 874.87 L1180.00 875.50Z M1184.00 875.50 L1184.40 873.96 L1184.80 873.30 L1185.20 873.30 L1185.60 873.96 L1186.00 875.50Z M1187.00 875.50 L1187.40 874.80 L1187.80 874.50 L1188.20 874.50 L1188.60 874.80 L1189.00 875.50Z M1189.23 875.50 L1189.55 874.45 L1189.93 873.16 L1190.35 872.50 L1190.65 872.50 L1191.07 873.16 L1191.45 874.45 L1191.77 875.50Z M1195.00 875.50 L1195.40 874.87 L1195.80 874.60 L1196.20 874.60 L1196.60 874.87 L1197.00 875.50Z M1197.93 875.50 L1198.25 874.21 L1198.63 872.61 L1199.05 871.80 L1199.35 871.80 L1199.77 872.61 L1200.15 874.21 L1200.47 875.50Z M1204.00 875.50 L1204.40 874.94 L1204.80 874.70 L1205.20 874.70 L1205.60 874.94 L1206.00 875.50Z M1207.50 875.50 L1207.90 874.45 L1208.30 874.00 L1208.70 874.00 L1209.10 874.45 L1209.50 875.50Z M1210.00 875.50 L1210.40 874.59 L1210.80 874.20 L1211.20 874.20 L1211.60 874.59 L1212.00 875.50Z M1213.45 875.50 L1213.74 874.52 L1214.08 873.32 L1214.46 872.70 L1214.74 872.70 L1215.12 873.32 L1215.46 874.52 L1215.75 875.50Z M1215.13 875.50 L1215.45 874.10 L1215.83 872.38 L1216.25 871.50 L1216.55 871.50 L1216.97 872.38 L1217.35 874.10 L1217.67 875.50Z M1219.50 875.50 L1219.90 874.80 L1220.30 874.50 L1220.70 874.50 L1221.10 874.80 L1221.50 875.50Z M1229.79 875.50 L1230.19 874.55 L1230.68 873.39 L1231.21 872.80 L1231.59 872.80 L1232.12 873.39 L1232.61 874.55 L1233.01 875.50Z M1233.00 875.50 L1233.40 874.80 L1233.80 874.50 L1234.20 874.50 L1234.60 874.80 L1235.00 875.50Z M1237.22 875.50 L1237.56 873.75 L1237.98 871.60 L1238.43 870.50 L1238.77 870.50 L1239.22 871.60 L1239.63 873.75 L1239.98 875.50Z M1242.00 875.50 L1242.40 875.01 L1242.80 874.80 L1243.20 874.80 L1243.60 875.01 L1244.00 875.50Z M1247.00 875.50 L1247.40 874.94 L1247.80 874.70 L1248.20 874.70 L1248.60 874.94 L1249.00 875.50Z M1252.40 875.50 L1252.84 874.10 L1253.28 873.50 L1253.72 873.50 L1254.16 874.10 L1254.60 875.50Z M1255.90 875.50 L1256.34 874.10 L1256.78 873.50 L1257.22 873.50 L1257.66 874.10 L1258.10 875.50Z M1261.00 875.50 L1261.40 874.94 L1261.80 874.70 L1262.20 874.70 L1262.60 874.94 L1263.00 875.50Z M1272.90 875.50 L1273.34 874.80 L1273.78 874.50 L1274.22 874.50 L1274.66 874.80 L1275.10 875.50Z M1295.20 875.50 L1295.60 874.45 L1296.00 874.00 L1296.40 874.00 L1296.80 874.45 L1297.20 875.50Z M1298.30 875.50 L1298.70 874.17 L1299.10 873.60 L1299.50 873.60 L1299.90 874.17 L1300.30 875.50Z M1300.40 875.50 L1300.80 874.17 L1301.20 873.60 L1301.60 873.60 L1302.00 874.17 L1302.40 875.50Z M1317.00 875.50 L1317.40 874.94 L1317.80 874.70 L1318.20 874.70 L1318.60 874.94 L1319.00 875.50Z M1320.00 875.50 L1320.40 874.94 L1320.80 874.70 L1321.20 874.70 L1321.60 874.94 L1322.00 875.50Z M876.60 875.50 L877.50 874.70 L879.00 873.90 L880.00 873.30 L880.40 869.50 L880.90 866.00 L881.40 864.50 L881.90 866.50 L882.50 871.00 L883.25 872.75 L883.80 872.00 L884.20 869.00 L884.75 868.00 L885.40 867.50 L885.90 865.70 L886.40 864.75 L886.90 866.00 L887.30 867.50 L887.75 867.75 L888.20 870.50 L888.60 874.00 L888.90 875.50Z M1223.50 875.50 L1223.75 872.40 L1224.50 864.50 L1225.00 848.80 L1225.16 844.50 L1225.70 842.50 L1226.26 841.50 L1226.80 844.50 L1227.20 846.30 L1227.84 846.30 L1228.00 848.80 L1228.30 864.50 L1228.60 869.20 L1229.00 871.50 L1229.40 872.00 L1230.30 873.00 L1231.30 874.20 L1231.80 874.00 L1232.40 873.10 L1232.80 874.30 L1233.20 875.50Z M1289.20 875.50 L1289.60 873.50 L1290.10 872.20 L1293.00 872.20 L1293.40 873.50 L1293.70 875.50Z M1303.00 875.50 L1303.40 872.20 L1304.00 873.00 L1305.30 873.00 L1305.70 872.50 L1306.10 867.10 L1306.80 858.90 L1307.20 855.00 L1307.60 853.40 L1308.30 854.50 L1309.10 856.20 L1309.80 861.70 L1310.06 869.80 L1310.30 873.30 L1310.70 872.00 L1311.10 869.80 L1311.80 866.50 L1312.40 865.10 L1313.00 867.00 L1313.90 869.80 L1315.20 872.50 L1315.80 874.00 L1316.20 875.50Z M690.80 875.50 L691.10 873.59 L691.60 872.19 L692.00 871.27 L692.40 869.70 L693.00 870.05 L693.90 871.27 L694.30 872.60 L694.70 873.59 L695.00 875.50Z M461.29 875.50 L462.09 875.18 L465.55 875.10 L469.01 875.18 L469.81 875.50Z M477.98 875.50 L478.78 875.16 L480.88 875.07 L482.97 875.16 L483.77 875.50Z M486.66 875.50 L487.46 875.18 L488.31 875.10 L489.16 875.18 L489.96 875.50Z M504.27 875.50 L505.07 875.27 L507.76 875.22 L510.44 875.27 L511.24 875.50Z M512.53 875.50 L513.33 875.33 L514.84 875.29 L516.36 875.33 L517.16 875.50Z M522.56 875.50 L523.36 875.36 L524.92 875.33 L526.47 875.36 L527.27 875.50Z M543.87 875.50 L544.67 875.27 L547.57 875.21 L550.47 875.27 L551.27 875.50Z M555.36 875.50 L556.16 875.24 L557.82 875.18 L559.47 875.24 L560.27 875.50Z M564.45 875.50 L565.25 875.20 L569.44 875.13 L573.62 875.20 L574.42 875.50Z M578.19 875.50 L578.99 875.24 L582.61 875.18 L586.24 875.24 L587.04 875.50Z M599.87 875.50 L600.67 875.15 L603.57 875.07 L606.47 875.15 L607.27 875.50Z M612.34 875.50 L613.14 875.37 L616.84 875.34 L620.53 875.37 L621.33 875.50Z M623.44 875.50 L624.24 875.21 L628.09 875.14 L631.93 875.21 L632.73 875.50Z M637.28 875.50 L638.08 875.14 L640.01 875.05 L641.93 875.14 L642.73 875.50Z M643.79 875.50 L644.59 875.26 L646.62 875.20 L648.65 875.26 L649.45 875.50Z M652.90 875.50 L653.70 875.32 L654.83 875.28 L655.96 875.32 L656.76 875.50Z M662.69 875.50 L663.49 875.32 L666.14 875.27 L668.79 875.32 L669.59 875.50Z M679.86 875.50 L680.66 875.15 L684.19 875.06 L687.72 875.15 L688.52 875.50Z M714.18 875.50 L714.98 875.28 L718.12 875.22 L721.27 875.28 L722.07 875.50Z M724.33 875.50 L725.13 875.20 L726.63 875.13 L728.12 875.20 L728.92 875.50Z M754.03 875.50 L754.83 875.26 L759.10 875.20 L763.37 875.26 L764.17 875.50Z M769.30 875.50 L770.10 875.14 L771.26 875.05 L772.41 875.14 L773.21 875.50Z M777.98 875.50 L778.78 875.15 L783.31 875.06 L787.83 875.15 L788.63 875.50Z M794.45 875.50 L795.25 875.31 L798.07 875.27 L800.88 875.31 L801.68 875.50Z M823.63 875.50 L824.43 875.24 L827.52 875.17 L830.62 875.24 L831.42 875.50Z M835.55 875.50 L836.35 875.29 L837.40 875.24 L838.45 875.29 L839.25 875.50Z M850.77 875.50 L851.57 875.17 L854.73 875.09 L857.90 875.17 L858.70 875.50Z M861.06 875.50 L861.86 875.13 L865.45 875.04 L869.03 875.13 L869.83 875.50Z M875.78 875.50 L876.58 875.38 L881.17 875.35 L885.75 875.38 L886.55 875.50Z M933.85 875.50 L934.65 875.39 L937.93 875.37 L941.21 875.39 L942.01 875.50Z M952.49 875.50 L953.29 875.26 L954.39 875.19 L955.49 875.26 L956.29 875.50Z M958.68 875.50 L959.48 875.37 L961.74 875.34 L963.99 875.37 L964.79 875.50Z M1015.09 875.50 L1015.89 875.25 L1020.51 875.19 L1025.12 875.25 L1025.92 875.50Z M1050.70 875.50 L1051.50 875.26 L1053.58 875.21 L1055.66 875.26 L1056.46 875.50Z M1102.06 875.50 L1102.86 875.34 L1103.83 875.29 L1104.80 875.34 L1105.60 875.50Z M1140.56 875.50 L1141.36 875.28 L1144.98 875.23 L1148.61 875.28 L1149.41 875.50Z M1151.67 875.50 L1152.47 875.25 L1156.59 875.19 L1160.71 875.25 L1161.51 875.50Z M1174.42 875.50 L1175.22 875.27 L1176.17 875.21 L1177.13 875.27 L1177.93 875.50Z M1179.71 875.50 L1180.51 875.14 L1184.98 875.06 L1189.45 875.14 L1190.25 875.50Z M1229.36 875.50 L1230.16 875.28 L1233.24 875.22 L1236.33 875.28 L1237.13 875.50Z M1261.26 875.50 L1262.06 875.40 L1265.03 875.38 L1268.01 875.40 L1268.81 875.50Z M1282.25 875.50 L1283.05 875.35 L1286.66 875.31 L1290.26 875.35 L1291.06 875.50Z" fill="#BE5AF5"/>
<line x1="352.0" y1="875.50" x2="1369.0" y2="875.50" stroke="#000" stroke-width="0.57"/>
<text x="138.70" y="828.50" font-size="23.47" fill="#1a1a1a" letter-spacing="0.523">Pre-adipocytes</text>
<line x1="106.55" y1="30.6" x2="106.55" y2="880.8" stroke="#000" stroke-width="2.7"/>
<path d="M99.2 146.60H105.3M99.2 120.57H105.3M99.2 94.54H105.3M99.2 68.51H105.3M99.2 42.48H105.3M99.2 268.10H105.3M99.2 242.07H105.3M99.2 216.04H105.3M99.2 190.01H105.3M99.2 163.98H105.3M99.2 389.60H105.3M99.2 363.57H105.3M99.2 337.54H105.3M99.2 311.51H105.3M99.2 285.48H105.3M99.2 511.10H105.3M99.2 485.07H105.3M99.2 459.04H105.3M99.2 433.01H105.3M99.2 406.98H105.3M99.2 632.60H105.3M99.2 606.57H105.3M99.2 580.54H105.3M99.2 554.51H105.3M99.2 528.48H105.3M99.2 754.10H105.3M99.2 728.07H105.3M99.2 702.04H105.3M99.2 676.01H105.3M99.2 649.98H105.3M99.2 875.60H105.3M99.2 849.57H105.3M99.2 823.54H105.3M99.2 797.51H105.3M99.2 771.48H105.3" stroke="#333" stroke-width="2.8" fill="none"/>
<text transform="translate(51.70 596.67) rotate(-90)" font-size="29.33" fill="#000" letter-spacing="0.662">Normalized signal</text>
<text transform="translate(84.75 570.40) rotate(-90)" font-size="29.33" fill="#000" letter-spacing="0.589">(range 0 - 850)</text>
<line x1="106.55" y1="918.6" x2="106.55" y2="1173.9" stroke="#000" stroke-width="2.7"/>
<text transform="translate(68.70 1094.45) rotate(-90)" font-size="29.33" fill="#000" letter-spacing="0.650">Genes</text>
<line x1="509.0" y1="992.57" x2="1243.8" y2="992.57" stroke="#00008B" stroke-width="2.85"/>
<path d="M503.40 986.97L509.00 992.57L503.40 998.17M521.91 986.97L527.51 992.57L521.91 998.17M540.41 986.97L546.01 992.57L540.41 998.17M558.92 986.97L564.52 992.57L558.92 998.17M577.42 986.97L583.02 992.57L577.42 998.17M595.93 986.97L601.53 992.57L595.93 998.17M614.44 986.97L620.04 992.57L614.44 998.17M632.94 986.97L638.54 992.57L632.94 998.17M651.45 986.97L657.05 992.57L651.45 998.17M669.95 986.97L675.55 992.57L669.95 998.17M688.46 986.97L694.06 992.57L688.46 998.17M706.97 986.97L712.57 992.57L706.97 998.17M725.47 986.97L731.07 992.57L725.47 998.17M743.98 986.97L749.58 992.57L743.98 998.17M762.48 986.97L768.08 992.57L762.48 998.17M780.99 986.97L786.59 992.57L780.99 998.17M799.50 986.97L805.10 992.57L799.50 998.17M818.00 986.97L823.60 992.57L818.00 998.17M836.51 986.97L842.11 992.57L836.51 998.17M855.01 986.97L860.61 992.57L855.01 998.17M873.52 986.97L879.12 992.57L873.52 998.17M892.03 986.97L897.63 992.57L892.03 998.17M910.53 986.97L916.13 992.57L910.53 998.17M929.04 986.97L934.64 992.57L929.04 998.17M947.54 986.97L953.14 992.57L947.54 998.17M966.05 986.97L971.65 992.57L966.05 998.17M984.56 986.97L990.16 992.57L984.56 998.17M1003.06 986.97L1008.66 992.57L1003.06 998.17M1021.57 986.97L1027.17 992.57L1021.57 998.17M1040.07 986.97L1045.67 992.57L1040.07 998.17M1058.58 986.97L1064.18 992.57L1058.58 998.17M1077.09 986.97L1082.69 992.57L1077.09 998.17M1095.59 986.97L1101.19 992.57L1095.59 998.17M1114.10 986.97L1119.70 992.57L1114.10 998.17M1132.60 986.97L1138.20 992.57L1132.60 998.17M1151.11 986.97L1156.71 992.57L1151.11 998.17M1169.62 986.97L1175.22 992.57L1169.62 998.17M1188.12 986.97L1193.72 992.57L1188.12 998.17M1206.63 986.97L1212.23 992.57L1206.63 998.17M1225.13 986.97L1230.73 992.57L1225.13 998.17M1238.20 986.97L1243.80 992.57L1238.20 998.17" stroke="#00008B" stroke-width="2.85" fill="none" stroke-linejoin="round"/>
<rect x="509.10" y="983.5" width="2.90" height="18.2" fill="#00008B"/>
<rect x="585.00" y="983.5" width="1.00" height="18.2" fill="#00008B"/>
<rect x="642.20" y="983.5" width="1.40" height="18.2" fill="#00008B"/>
<rect x="780.20" y="983.5" width="7.50" height="18.2" fill="#00008B"/>
<rect x="884.20" y="983.5" width="1.00" height="18.2" fill="#00008B"/>
<rect x="909.00" y="983.5" width="7.70" height="18.2" fill="#00008B"/>
<rect x="1003.40" y="983.5" width="2.60" height="18.2" fill="#00008B"/>
<rect x="1135.00" y="983.5" width="51.70" height="18.2" fill="#00008B"/>
<rect x="1218.00" y="983.5" width="26.00" height="18.2" fill="#00008B"/>
<text x="845.33" y="968.70" font-size="18.60" fill="#000" letter-spacing="0.487">Dcp1b</text>
<line x1="398.0" y1="1147.29" x2="844.6" y2="1147.29" stroke="#006400" stroke-width="2.85"/>
<path d="M403.60 1141.69L398.00 1147.29L403.60 1152.89M422.10 1141.69L416.50 1147.29L422.10 1152.89M440.60 1141.69L435.00 1147.29L440.60 1152.89M459.10 1141.69L453.50 1147.29L459.10 1152.89M477.60 1141.69L472.00 1147.29L477.60 1152.89M496.10 1141.69L490.50 1147.29L496.10 1152.89M514.60 1141.69L509.00 1147.29L514.60 1152.89M533.10 1141.69L527.50 1147.29L533.10 1152.89M551.60 1141.69L546.00 1147.29L551.60 1152.89M570.10 1141.69L564.50 1147.29L570.10 1152.89M588.60 1141.69L583.00 1147.29L588.60 1152.89M607.10 1141.69L601.50 1147.29L607.10 1152.89M625.60 1141.69L620.00 1147.29L625.60 1152.89M644.10 1141.69L638.50 1147.29L644.10 1152.89M662.60 1141.69L657.00 1147.29L662.60 1152.89M681.10 1141.69L675.50 1147.29L681.10 1152.89M699.60 1141.69L694.00 1147.29L699.60 1152.89M718.10 1141.69L712.50 1147.29L718.10 1152.89M736.60 1141.69L731.00 1147.29L736.60 1152.89M755.10 1141.69L749.50 1147.29L755.10 1152.89M773.60 1141.69L768.00 1147.29L773.60 1152.89M792.10 1141.69L786.50 1147.29L792.10 1152.89M810.60 1141.69L805.00 1147.29L810.60 1152.89M829.10 1141.69L823.50 1147.29L829.10 1152.89M847.60 1141.69L842.00 1147.29L847.60 1152.89" stroke="#006400" stroke-width="2.85" fill="none" stroke-linejoin="round"/>
<rect x="839.0" y="1138.0" width="5.6" height="18.6" fill="#006400"/>
<text x="579.52" y="1122.70" font-size="18.60" fill="#000" letter-spacing="0.600">Cacna1c</text>
<line x1="106.55" y1="1212.6" x2="106.55" y2="1297.5" stroke="#000" stroke-width="2.7"/>
<text transform="translate(68.90 1298.33) rotate(-90)" font-size="29.33" fill="#000" letter-spacing="0.563">Peaks</text>
<rect x="503.10" y="1249.1" width="14.70" height="11.7" fill="#686868"/>
<rect x="534.00" y="1249.1" width="14.30" height="11.7" fill="#686868"/>
<rect x="686.00" y="1249.1" width="14.60" height="11.7" fill="#686868"/>
<rect x="838.30" y="1249.1" width="8.80" height="11.7" fill="#686868"/>
<rect x="849.00" y="1249.1" width="10.90" height="11.7" fill="#686868"/>
<rect x="877.40" y="1249.1" width="14.60" height="11.7" fill="#686868"/>
<rect x="981.50" y="1249.1" width="13.50" height="11.7" fill="#686868"/>
<rect x="1219.40" y="1249.1" width="13.60" height="11.7" fill="#686868"/>
<rect x="1283.80" y="1249.1" width="15.50" height="11.7" fill="#686868"/>
<rect x="1303.10" y="1249.1" width="12.00" height="11.7" fill="#686868"/>
<line x1="351.9" y1="1297.6" x2="1369" y2="1297.6" stroke="#000" stroke-width="2.8"/>
<path d="M425.43 1298.9V1304.8M584.00 1298.9V1304.8M742.57 1298.9V1304.8M901.14 1298.9V1304.8M1059.71 1298.9V1304.8M1218.28 1298.9V1304.8" stroke="#333" stroke-width="2.8" fill="none"/>
<text x="356.10" y="1328.60" font-size="23.47" fill="#4d4d4d" letter-spacing="0.537">119170000</text>
<text x="514.75" y="1328.60" font-size="23.47" fill="#4d4d4d" letter-spacing="0.506">119180000</text>
<text x="673.28" y="1328.60" font-size="23.47" fill="#4d4d4d" letter-spacing="0.538">119190000</text>
<text x="831.93" y="1328.60" font-size="23.47" fill="#4d4d4d" letter-spacing="0.537">119200000</text>
<text x="990.45" y="1328.60" font-size="23.47" fill="#4d4d4d" letter-spacing="0.506">119210000</text>
<text x="1148.85" y="1328.60" font-size="23.47" fill="#4d4d4d" letter-spacing="0.538">119220000</text>
<text x="725.30" y="1364.20" font-size="29.33" fill="#000" letter-spacing="0.597">chr6 position (bp)</text>
</svg>
</body></html>
